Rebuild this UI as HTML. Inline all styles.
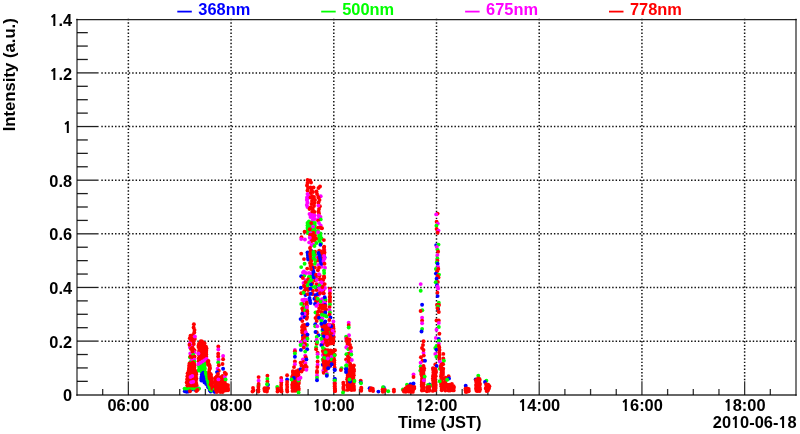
<!DOCTYPE html>
<html><head><meta charset="utf-8"><style>
html,body{margin:0;padding:0;background:#fff;width:800px;height:434px;overflow:hidden}
svg{display:block}
.one{font-family:NanumGothic,'Liberation Sans',sans-serif;font-weight:800;font-size:14.9px}
.r{fill:#f00}.g{fill:#0f0}.b{fill:#00f}.m{fill:#f0f}
</style></head><body>
<svg width="800" height="434" viewBox="0 0 800 434">
<rect width="800" height="434" fill="#fff"/>
<g stroke="#111" stroke-width="1.5" stroke-dasharray="1.45 1.9786" fill="none"><line x1="128.36" y1="18.78" x2="128.36" y2="382.0"/><line x1="231.07" y1="18.78" x2="231.07" y2="382.0"/><line x1="333.79" y1="18.78" x2="333.79" y2="382.0"/><line x1="436.50" y1="18.78" x2="436.50" y2="382.0"/><line x1="539.21" y1="18.78" x2="539.21" y2="382.0"/><line x1="641.93" y1="18.78" x2="641.93" y2="382.0"/><line x1="744.64" y1="18.78" x2="744.64" y2="382.0"/><line x1="101.33" y1="341.16" x2="796.0" y2="341.16"/><line x1="101.33" y1="287.51" x2="796.0" y2="287.51"/><line x1="101.33" y1="233.87" x2="796.0" y2="233.87"/><line x1="101.33" y1="180.23" x2="796.0" y2="180.23"/><line x1="101.33" y1="126.59" x2="796.0" y2="126.59"/><line x1="101.33" y1="72.94" x2="796.0" y2="72.94"/></g><g stroke="#000" stroke-width="1.3" fill="none" opacity="0.88"><line x1="77.0" y1="381.34" x2="87.8" y2="381.34"/><line x1="77.0" y1="367.93" x2="87.8" y2="367.93"/><line x1="77.0" y1="354.52" x2="87.8" y2="354.52"/><line x1="77.0" y1="341.11" x2="98.6" y2="341.11"/><line x1="77.0" y1="327.70" x2="87.8" y2="327.70"/><line x1="77.0" y1="314.29" x2="87.8" y2="314.29"/><line x1="77.0" y1="300.88" x2="87.8" y2="300.88"/><line x1="77.0" y1="287.46" x2="98.6" y2="287.46"/><line x1="77.0" y1="274.05" x2="87.8" y2="274.05"/><line x1="77.0" y1="260.64" x2="87.8" y2="260.64"/><line x1="77.0" y1="247.23" x2="87.8" y2="247.23"/><line x1="77.0" y1="233.82" x2="98.6" y2="233.82"/><line x1="77.0" y1="220.41" x2="87.8" y2="220.41"/><line x1="77.0" y1="207.00" x2="87.8" y2="207.00"/><line x1="77.0" y1="193.59" x2="87.8" y2="193.59"/><line x1="77.0" y1="180.18" x2="98.6" y2="180.18"/><line x1="77.0" y1="166.77" x2="87.8" y2="166.77"/><line x1="77.0" y1="153.36" x2="87.8" y2="153.36"/><line x1="77.0" y1="139.95" x2="87.8" y2="139.95"/><line x1="77.0" y1="126.54" x2="98.6" y2="126.54"/><line x1="77.0" y1="113.12" x2="87.8" y2="113.12"/><line x1="77.0" y1="99.71" x2="87.8" y2="99.71"/><line x1="77.0" y1="86.30" x2="87.8" y2="86.30"/><line x1="77.0" y1="72.89" x2="98.6" y2="72.89"/><line x1="77.0" y1="59.48" x2="87.8" y2="59.48"/><line x1="77.0" y1="46.07" x2="87.8" y2="46.07"/><line x1="77.0" y1="32.66" x2="87.8" y2="32.66"/></g><g stroke="#000" stroke-width="1.3" fill="none" opacity="0.8"><line x1="102.68" y1="395.0" x2="102.68" y2="389.0"/><line x1="128.36" y1="395.0" x2="128.36" y2="381.3"/><line x1="154.04" y1="395.0" x2="154.04" y2="389.0"/><line x1="179.71" y1="395.0" x2="179.71" y2="389.0"/><line x1="205.39" y1="395.0" x2="205.39" y2="389.0"/><line x1="231.07" y1="395.0" x2="231.07" y2="381.3"/><line x1="256.75" y1="395.0" x2="256.75" y2="389.0"/><line x1="282.43" y1="395.0" x2="282.43" y2="389.0"/><line x1="308.11" y1="395.0" x2="308.11" y2="389.0"/><line x1="333.79" y1="395.0" x2="333.79" y2="381.3"/><line x1="359.46" y1="395.0" x2="359.46" y2="389.0"/><line x1="385.14" y1="395.0" x2="385.14" y2="389.0"/><line x1="410.82" y1="395.0" x2="410.82" y2="389.0"/><line x1="436.50" y1="395.0" x2="436.50" y2="381.3"/><line x1="462.18" y1="395.0" x2="462.18" y2="389.0"/><line x1="487.86" y1="395.0" x2="487.86" y2="389.0"/><line x1="513.54" y1="395.0" x2="513.54" y2="389.0"/><line x1="539.21" y1="395.0" x2="539.21" y2="381.3"/><line x1="564.89" y1="395.0" x2="564.89" y2="389.0"/><line x1="590.57" y1="395.0" x2="590.57" y2="389.0"/><line x1="616.25" y1="395.0" x2="616.25" y2="389.0"/><line x1="641.93" y1="395.0" x2="641.93" y2="381.3"/><line x1="667.61" y1="395.0" x2="667.61" y2="389.0"/><line x1="693.29" y1="395.0" x2="693.29" y2="389.0"/><line x1="718.96" y1="395.0" x2="718.96" y2="389.0"/><line x1="744.64" y1="395.0" x2="744.64" y2="381.3"/><line x1="770.32" y1="395.0" x2="770.32" y2="389.0"/></g><g fill="none" stroke-linecap="square"><line x1="77.0" y1="19.6" x2="796.0" y2="19.6" stroke="#222" stroke-width="1.45"/><line x1="77.0" y1="19.5" x2="77.0" y2="395.0" stroke="#000" stroke-width="1.3" opacity="0.8"/><line x1="796.0" y1="19.5" x2="796.0" y2="395.0" stroke="#000" stroke-width="1.3" opacity="0.8"/><line x1="77.0" y1="395.0" x2="796.0" y2="395.0" stroke="#000" stroke-width="1.3" opacity="0.8"/></g><g><circle class="r" cx="193.9" cy="324.3" r="1.95"/><circle class="r" cx="193.6" cy="327.5" r="1.95"/><circle class="r" cx="194.5" cy="330.0" r="1.95"/><circle class="r" cx="194.3" cy="332.5" r="1.95"/><circle class="r" cx="193.0" cy="335.0" r="1.95"/><circle class="r" cx="190.5" cy="335.8" r="1.95"/><circle class="r" cx="189.8" cy="338.2" r="1.95"/><circle class="r" cx="192.0" cy="338.5" r="1.95"/><circle class="r" cx="194.8" cy="339.0" r="1.95"/><circle class="r" cx="191.0" cy="340.8" r="1.95"/><circle class="r" cx="193.5" cy="341.5" r="1.95"/><circle class="m" cx="194.9" cy="336.5" r="1.95"/><circle class="m" cx="189.8" cy="343.5" r="1.95"/><circle class="m" cx="192.5" cy="345.5" r="1.95"/><circle class="m" cx="190.0" cy="347.5" r="1.95"/><circle class="r" cx="191.0" cy="349.0" r="1.95"/><circle class="r" cx="189.5" cy="344.8" r="1.95"/><circle class="r" cx="193.5" cy="349.5" r="1.95"/><circle class="r" cx="194.5" cy="350.5" r="1.95"/><circle class="r" cx="193.8" cy="344.0" r="1.95"/><circle class="r" cx="192.5" cy="347.8" r="1.95"/><circle class="m" cx="190.3" cy="353.5" r="1.95"/><circle class="m" cx="194.4" cy="352.3" r="1.95"/><circle class="g" cx="193.2" cy="354.6" r="1.95"/><circle class="g" cx="190.0" cy="357.2" r="1.95"/><circle class="r" cx="190.5" cy="356.5" r="1.95"/><circle class="r" cx="194.5" cy="356.5" r="1.95"/><circle class="r" cx="192.5" cy="357.5" r="1.95"/><circle class="r" cx="192.5" cy="351.5" r="1.95"/><circle class="m" cx="191.2" cy="360.6" r="1.95"/><circle class="m" cx="194.4" cy="359.8" r="1.95"/><circle class="g" cx="194.4" cy="361.8" r="1.95"/><circle class="g" cx="190.3" cy="362.5" r="1.95"/><circle class="r" cx="189.5" cy="363.5" r="1.95"/><circle class="r" cx="193.0" cy="362.5" r="1.95"/><circle class="b" cx="184.8" cy="391.3" r="1.95"/><circle class="b" cx="186.6" cy="391.8" r="1.95"/><circle class="b" cx="188.3" cy="391.5" r="1.95"/><circle class="b" cx="191.5" cy="389.5" r="1.95"/><circle class="b" cx="195.0" cy="389.8" r="1.95"/><circle class="b" cx="198.5" cy="388.5" r="1.95"/><circle class="g" cx="184.6" cy="388.6" r="1.95"/><circle class="g" cx="187.0" cy="388.6" r="1.95"/><circle class="g" cx="189.4" cy="388.6" r="1.95"/><circle class="g" cx="191.8" cy="388.6" r="1.95"/><circle class="g" cx="194.2" cy="388.6" r="1.95"/><circle class="g" cx="196.6" cy="388.6" r="1.95"/><circle class="g" cx="199.0" cy="388.6" r="1.95"/><circle class="r" cx="192.9" cy="377.0" r="1.95"/><circle class="r" cx="189.1" cy="365.7" r="1.95"/><circle class="r" cx="189.4" cy="378.8" r="1.95"/><circle class="r" cx="194.8" cy="385.7" r="1.95"/><circle class="r" cx="191.2" cy="382.2" r="1.95"/><circle class="r" cx="194.5" cy="383.5" r="1.95"/><circle class="r" cx="192.6" cy="367.8" r="1.95"/><circle class="r" cx="196.4" cy="371.1" r="1.95"/><circle class="r" cx="195.9" cy="376.5" r="1.95"/><circle class="r" cx="194.1" cy="364.0" r="1.95"/><circle class="r" cx="191.2" cy="363.7" r="1.95"/><circle class="r" cx="187.4" cy="378.8" r="1.95"/><circle class="r" cx="192.6" cy="385.5" r="1.95"/><circle class="r" cx="187.2" cy="385.6" r="1.95"/><circle class="r" cx="189.0" cy="369.0" r="1.95"/><circle class="r" cx="188.7" cy="370.8" r="1.95"/><circle class="r" cx="190.5" cy="371.1" r="1.95"/><circle class="r" cx="192.4" cy="370.6" r="1.95"/><circle class="r" cx="194.1" cy="380.5" r="1.95"/><circle class="r" cx="192.4" cy="381.7" r="1.95"/><circle class="r" cx="187.6" cy="383.7" r="1.95"/><circle class="r" cx="190.7" cy="378.0" r="1.95"/><circle class="r" cx="192.3" cy="369.2" r="1.95"/><circle class="r" cx="188.8" cy="380.4" r="1.95"/><circle class="r" cx="190.5" cy="383.2" r="1.95"/><circle class="r" cx="187.2" cy="379.8" r="1.95"/><circle class="r" cx="187.4" cy="376.3" r="1.95"/><circle class="r" cx="192.3" cy="378.0" r="1.95"/><circle class="r" cx="194.8" cy="378.6" r="1.95"/><circle class="r" cx="196.2" cy="374.3" r="1.95"/><circle class="r" cx="191.0" cy="367.6" r="1.95"/><circle class="r" cx="186.7" cy="382.4" r="1.95"/><circle class="r" cx="194.6" cy="365.5" r="1.95"/><circle class="r" cx="196.3" cy="384.0" r="1.95"/><circle class="r" cx="189.1" cy="367.9" r="1.95"/><circle class="r" cx="191.1" cy="365.9" r="1.95"/><circle class="r" cx="189.0" cy="383.2" r="1.95"/><circle class="r" cx="194.3" cy="371.2" r="1.95"/><circle class="r" cx="191.1" cy="376.3" r="1.95"/><circle class="r" cx="192.3" cy="383.7" r="1.95"/><circle class="r" cx="193.9" cy="372.6" r="1.95"/><circle class="r" cx="195.8" cy="380.4" r="1.95"/><circle class="r" cx="192.4" cy="374.5" r="1.95"/><circle class="r" cx="194.1" cy="374.2" r="1.95"/><circle class="r" cx="194.7" cy="376.8" r="1.95"/><circle class="r" cx="195.8" cy="382.3" r="1.95"/><circle class="r" cx="192.2" cy="363.7" r="1.95"/><circle class="r" cx="192.3" cy="372.7" r="1.95"/><circle class="r" cx="192.8" cy="379.8" r="1.95"/><circle class="r" cx="192.7" cy="365.7" r="1.95"/><circle class="r" cx="190.8" cy="385.5" r="1.95"/><circle class="r" cx="190.4" cy="372.5" r="1.95"/><circle class="r" cx="196.6" cy="385.3" r="1.95"/><circle class="r" cx="189.3" cy="375.2" r="1.95"/><circle class="r" cx="188.9" cy="372.5" r="1.95"/><circle class="r" cx="196.1" cy="372.4" r="1.95"/><circle class="r" cx="188.7" cy="376.8" r="1.95"/><circle class="r" cx="190.8" cy="374.3" r="1.95"/><circle class="r" cx="190.7" cy="380.0" r="1.95"/><circle class="r" cx="194.4" cy="367.7" r="1.95"/><circle class="r" cx="194.0" cy="369.2" r="1.95"/><circle class="r" cx="194.5" cy="381.7" r="1.95"/><circle class="r" cx="196.4" cy="378.6" r="1.95"/><circle class="r" cx="187.6" cy="373.2" r="1.95"/><circle class="r" cx="189.4" cy="385.4" r="1.95"/><circle class="r" cx="189.0" cy="382.3" r="1.95"/><circle class="r" cx="190.4" cy="369.6" r="1.95"/><circle class="r" cx="190.0" cy="391.3" r="1.95"/><circle class="r" cx="196.4" cy="391.0" r="1.95"/><circle class="r" cx="197.5" cy="390.0" r="1.95"/><circle class="m" cx="192.3" cy="376.0" r="1.95"/><circle class="m" cx="190.5" cy="377.0" r="1.95"/><circle class="m" cx="191.2" cy="382.3" r="1.95"/><circle class="m" cx="193.2" cy="381.8" r="1.95"/><circle class="r" cx="199.1" cy="351.0" r="1.95"/><circle class="r" cx="202.1" cy="341.4" r="1.95"/><circle class="r" cx="202.1" cy="346.8" r="1.95"/><circle class="r" cx="202.2" cy="350.5" r="1.95"/><circle class="r" cx="204.6" cy="354.4" r="1.95"/><circle class="r" cx="201.3" cy="348.4" r="1.95"/><circle class="r" cx="204.3" cy="345.0" r="1.95"/><circle class="r" cx="200.7" cy="360.1" r="1.95"/><circle class="r" cx="198.6" cy="354.0" r="1.95"/><circle class="r" cx="199.4" cy="348.7" r="1.95"/><circle class="r" cx="200.8" cy="343.6" r="1.95"/><circle class="r" cx="204.8" cy="348.9" r="1.95"/><circle class="r" cx="206.5" cy="348.4" r="1.95"/><circle class="r" cx="201.1" cy="356.5" r="1.95"/><circle class="r" cx="204.7" cy="350.7" r="1.95"/><circle class="r" cx="206.2" cy="356.5" r="1.95"/><circle class="r" cx="200.8" cy="341.3" r="1.95"/><circle class="r" cx="204.1" cy="356.1" r="1.95"/><circle class="r" cx="202.4" cy="345.2" r="1.95"/><circle class="r" cx="200.8" cy="346.7" r="1.95"/><circle class="r" cx="202.4" cy="355.7" r="1.95"/><circle class="r" cx="206.3" cy="350.8" r="1.95"/><circle class="r" cx="201.0" cy="352.2" r="1.95"/><circle class="r" cx="206.1" cy="352.4" r="1.95"/><circle class="r" cx="202.5" cy="359.5" r="1.95"/><circle class="r" cx="204.5" cy="343.3" r="1.95"/><circle class="r" cx="199.0" cy="343.7" r="1.95"/><circle class="r" cx="199.4" cy="359.4" r="1.95"/><circle class="r" cx="198.6" cy="345.5" r="1.95"/><circle class="r" cx="202.7" cy="348.3" r="1.95"/><circle class="r" cx="198.7" cy="358.2" r="1.95"/><circle class="r" cx="202.4" cy="352.6" r="1.95"/><circle class="r" cx="206.2" cy="354.2" r="1.95"/><circle class="r" cx="201.0" cy="350.3" r="1.95"/><circle class="r" cx="204.6" cy="352.9" r="1.95"/><circle class="r" cx="206.0" cy="346.7" r="1.95"/><circle class="r" cx="198.7" cy="361.3" r="1.95"/><circle class="r" cx="200.6" cy="354.3" r="1.95"/><circle class="r" cx="202.2" cy="354.0" r="1.95"/><circle class="r" cx="204.3" cy="346.5" r="1.95"/><circle class="r" cx="202.4" cy="343.7" r="1.95"/><circle class="r" cx="204.2" cy="357.6" r="1.95"/><circle class="r" cx="200.3" cy="357.3" r="1.95"/><circle class="r" cx="198.5" cy="346.9" r="1.95"/><circle class="r" cx="201.0" cy="345.0" r="1.95"/><circle class="r" cx="199.0" cy="352.6" r="1.95"/><circle class="r" cx="202.6" cy="357.6" r="1.95"/><circle class="r" cx="199.4" cy="355.5" r="1.95"/><circle class="m" cx="198.4" cy="353.5" r="1.95"/><circle class="g" cx="201.5" cy="367.5" r="1.95"/><circle class="g" cx="201.3" cy="369.3" r="1.95"/><circle class="g" cx="204.9" cy="368.8" r="1.95"/><circle class="g" cx="204.2" cy="370.5" r="1.95"/><circle class="g" cx="204.5" cy="367.1" r="1.95"/><circle class="g" cx="203.1" cy="363.7" r="1.95"/><circle class="g" cx="204.7" cy="365.0" r="1.95"/><circle class="g" cx="198.9" cy="370.6" r="1.95"/><circle class="g" cx="199.2" cy="367.0" r="1.95"/><circle class="g" cx="199.1" cy="369.3" r="1.95"/><circle class="g" cx="202.9" cy="365.4" r="1.95"/><circle class="g" cx="201.2" cy="371.3" r="1.95"/><circle class="g" cx="202.7" cy="370.6" r="1.95"/><circle class="g" cx="199.0" cy="365.6" r="1.95"/><circle class="g" cx="201.4" cy="363.9" r="1.95"/><circle class="g" cx="205.0" cy="362.2" r="1.95"/><circle class="g" cx="204.1" cy="364.0" r="1.95"/><circle class="g" cx="200.6" cy="365.1" r="1.95"/><circle class="g" cx="202.5" cy="369.6" r="1.95"/><circle class="g" cx="202.3" cy="367.3" r="1.95"/><circle class="m" cx="198.3" cy="364.0" r="1.95"/><circle class="m" cx="200.5" cy="362.7" r="1.95"/><circle class="m" cx="202.6" cy="361.4" r="1.95"/><circle class="m" cx="204.7" cy="360.1" r="1.95"/><circle class="m" cx="206.6" cy="358.9" r="1.95"/><circle class="b" cx="206.6" cy="380.3" r="1.95"/><circle class="b" cx="204.4" cy="377.1" r="1.95"/><circle class="b" cx="201.4" cy="379.0" r="1.95"/><circle class="b" cx="207.5" cy="381.0" r="1.95"/><circle class="b" cx="203.0" cy="380.4" r="1.95"/><circle class="b" cx="204.5" cy="382.4" r="1.95"/><circle class="b" cx="210.8" cy="390.1" r="1.95"/><circle class="b" cx="203.2" cy="374.3" r="1.95"/><circle class="b" cx="202.7" cy="378.6" r="1.95"/><circle class="b" cx="208.3" cy="382.4" r="1.95"/><circle class="b" cx="210.7" cy="391.5" r="1.95"/><circle class="b" cx="201.4" cy="377.9" r="1.95"/><circle class="b" cx="206.0" cy="375.6" r="1.95"/><circle class="b" cx="204.3" cy="380.8" r="1.95"/><circle class="b" cx="206.5" cy="378.8" r="1.95"/><circle class="b" cx="206.3" cy="374.3" r="1.95"/><circle class="b" cx="202.9" cy="375.7" r="1.95"/><circle class="b" cx="208.2" cy="384.0" r="1.95"/><circle class="b" cx="206.2" cy="383.9" r="1.95"/><circle class="b" cx="204.4" cy="374.2" r="1.95"/><circle class="b" cx="207.4" cy="385.1" r="1.95"/><circle class="b" cx="205.9" cy="382.5" r="1.95"/><circle class="b" cx="204.5" cy="375.7" r="1.95"/><circle class="b" cx="201.8" cy="376.2" r="1.95"/><circle class="b" cx="206.0" cy="377.6" r="1.95"/><circle class="b" cx="209.3" cy="387.2" r="1.95"/><circle class="b" cx="201.4" cy="380.6" r="1.95"/><circle class="b" cx="209.5" cy="388.7" r="1.95"/><circle class="b" cx="201.9" cy="374.3" r="1.95"/><circle class="b" cx="203.3" cy="372.8" r="1.95"/><circle class="b" cx="214.8" cy="391.5" r="1.95"/><circle class="b" cx="202.7" cy="377.6" r="1.95"/><circle class="b" cx="204.7" cy="379.0" r="1.95"/><circle class="b" cx="209.9" cy="390.5" r="1.95"/><circle class="b" cx="212.6" cy="390.2" r="1.95"/><circle class="b" cx="208.2" cy="387.2" r="1.95"/><circle class="g" cx="205.8" cy="372.5" r="1.95"/><circle class="g" cx="206.2" cy="374.5" r="1.95"/><circle class="g" cx="206.8" cy="377.0" r="1.95"/><circle class="g" cx="207.3" cy="379.5" r="1.95"/><circle class="g" cx="208.0" cy="382.0" r="1.95"/><circle class="g" cx="208.6" cy="384.5" r="1.95"/><circle class="g" cx="209.3" cy="387.0" r="1.95"/><circle class="g" cx="210.3" cy="389.5" r="1.95"/><circle class="g" cx="211.8" cy="390.5" r="1.95"/><circle class="r" cx="211.9" cy="381.2" r="1.95"/><circle class="r" cx="208.1" cy="364.8" r="1.95"/><circle class="r" cx="211.9" cy="384.1" r="1.95"/><circle class="r" cx="210.4" cy="378.5" r="1.95"/><circle class="r" cx="210.8" cy="374.2" r="1.95"/><circle class="r" cx="211.9" cy="385.7" r="1.95"/><circle class="r" cx="209.6" cy="378.4" r="1.95"/><circle class="r" cx="210.9" cy="375.7" r="1.95"/><circle class="r" cx="209.7" cy="365.8" r="1.95"/><circle class="r" cx="211.2" cy="381.6" r="1.95"/><circle class="r" cx="207.6" cy="361.9" r="1.95"/><circle class="r" cx="213.5" cy="387.6" r="1.95"/><circle class="r" cx="209.8" cy="367.8" r="1.95"/><circle class="r" cx="208.9" cy="364.3" r="1.95"/><circle class="r" cx="211.0" cy="377.8" r="1.95"/><circle class="r" cx="212.6" cy="382.9" r="1.95"/><circle class="r" cx="208.4" cy="363.8" r="1.95"/><circle class="r" cx="209.4" cy="376.3" r="1.95"/><circle class="r" cx="212.0" cy="378.3" r="1.95"/><circle class="r" cx="212.3" cy="388.7" r="1.95"/><circle class="r" cx="209.8" cy="373.4" r="1.95"/><circle class="r" cx="209.0" cy="371.9" r="1.95"/><circle class="r" cx="210.6" cy="379.6" r="1.95"/><circle class="r" cx="209.8" cy="368.4" r="1.95"/><circle class="r" cx="213.2" cy="388.7" r="1.95"/><circle class="r" cx="209.4" cy="369.8" r="1.95"/><circle class="r" cx="212.3" cy="386.7" r="1.95"/><circle class="r" cx="211.1" cy="382.9" r="1.95"/><circle class="r" cx="210.5" cy="384.5" r="1.95"/><circle class="r" cx="208.4" cy="360.9" r="1.95"/><circle class="r" cx="209.7" cy="377.6" r="1.95"/><circle class="r" cx="209.3" cy="374.3" r="1.95"/><circle class="b" cx="217.0" cy="381.0" r="1.95"/><circle class="g" cx="214.5" cy="389.8" r="1.95"/><circle class="b" cx="214.5" cy="391.8" r="1.95"/><circle class="r" cx="228.0" cy="390.3" r="1.95"/><circle class="r" cx="224.5" cy="388.9" r="1.95"/><circle class="r" cx="224.9" cy="390.6" r="1.95"/><circle class="r" cx="218.8" cy="379.1" r="1.95"/><circle class="r" cx="218.5" cy="381.6" r="1.95"/><circle class="r" cx="228.1" cy="389.0" r="1.95"/><circle class="r" cx="224.0" cy="377.7" r="1.95"/><circle class="r" cx="226.2" cy="384.7" r="1.95"/><circle class="r" cx="223.0" cy="386.9" r="1.95"/><circle class="r" cx="222.7" cy="388.7" r="1.95"/><circle class="r" cx="216.9" cy="388.8" r="1.95"/><circle class="r" cx="224.3" cy="386.5" r="1.95"/><circle class="r" cx="220.4" cy="386.2" r="1.95"/><circle class="r" cx="216.8" cy="376.2" r="1.95"/><circle class="r" cx="224.6" cy="381.5" r="1.95"/><circle class="r" cx="217.0" cy="386.8" r="1.95"/><circle class="r" cx="219.2" cy="377.4" r="1.95"/><circle class="r" cx="215.3" cy="381.4" r="1.95"/><circle class="r" cx="222.1" cy="385.1" r="1.95"/><circle class="r" cx="216.8" cy="392.0" r="1.95"/><circle class="r" cx="217.6" cy="382.6" r="1.95"/><circle class="r" cx="215.2" cy="379.8" r="1.95"/><circle class="r" cx="219.0" cy="384.5" r="1.95"/><circle class="r" cx="222.1" cy="383.2" r="1.95"/><circle class="r" cx="215.6" cy="385.0" r="1.95"/><circle class="r" cx="221.1" cy="390.1" r="1.95"/><circle class="r" cx="218.7" cy="390.7" r="1.95"/><circle class="r" cx="217.4" cy="384.6" r="1.95"/><circle class="r" cx="226.7" cy="387.0" r="1.95"/><circle class="r" cx="215.9" cy="388.1" r="1.95"/><circle class="r" cx="217.2" cy="377.6" r="1.95"/><circle class="r" cx="215.6" cy="386.3" r="1.95"/><circle class="r" cx="221.1" cy="380.9" r="1.95"/><circle class="r" cx="225.7" cy="388.2" r="1.95"/><circle class="r" cx="222.6" cy="376.0" r="1.95"/><circle class="r" cx="215.8" cy="383.0" r="1.95"/><circle class="r" cx="221.1" cy="388.3" r="1.95"/><circle class="r" cx="226.5" cy="390.3" r="1.95"/><circle class="r" cx="221.2" cy="385.0" r="1.95"/><circle class="r" cx="227.8" cy="387.1" r="1.95"/><circle class="r" cx="222.8" cy="378.2" r="1.95"/><circle class="r" cx="223.0" cy="390.8" r="1.95"/><circle class="r" cx="224.8" cy="384.6" r="1.95"/><circle class="r" cx="215.6" cy="377.7" r="1.95"/><circle class="r" cx="217.3" cy="381.2" r="1.95"/><circle class="r" cx="217.6" cy="379.3" r="1.95"/><circle class="r" cx="228.0" cy="385.1" r="1.95"/><circle class="r" cx="224.8" cy="383.1" r="1.95"/><circle class="r" cx="218.6" cy="382.9" r="1.95"/><circle class="r" cx="215.7" cy="390.0" r="1.95"/><circle class="r" cx="219.2" cy="387.1" r="1.95"/><circle class="r" cx="221.2" cy="382.8" r="1.95"/><circle class="r" cx="222.6" cy="381.2" r="1.95"/><circle class="r" cx="219.3" cy="388.5" r="1.95"/><circle class="r" cx="217.4" cy="390.1" r="1.95"/><circle class="r" cx="220.7" cy="379.5" r="1.95"/><circle class="r" cx="220.9" cy="377.2" r="1.95"/><circle class="r" cx="220.3" cy="392.0" r="1.95"/><circle class="r" cx="224.1" cy="379.5" r="1.95"/><circle class="r" cx="222.6" cy="392.0" r="1.95"/><circle class="r" cx="223.1" cy="379.9" r="1.95"/><circle class="m" cx="218.4" cy="379.4" r="1.95"/><circle class="m" cx="224.9" cy="376.7" r="1.95"/><circle class="g" cx="225.6" cy="379.4" r="1.95"/><circle class="r" cx="218.3" cy="346.5" r="1.95"/><circle class="m" cx="218.3" cy="349.5" r="1.95"/><circle class="r" cx="218.2" cy="353.7" r="1.95"/><circle class="r" cx="218.2" cy="356.5" r="1.95"/><circle class="m" cx="218.5" cy="359.8" r="1.95"/><circle class="g" cx="218.2" cy="362.4" r="1.95"/><circle class="r" cx="218.8" cy="365.2" r="1.95"/><circle class="m" cx="217.6" cy="368.7" r="1.95"/><circle class="r" cx="218.8" cy="370.7" r="1.95"/><circle class="b" cx="217.0" cy="372.1" r="1.95"/><circle class="r" cx="218.0" cy="374.0" r="1.95"/><circle class="m" cx="223.1" cy="356.0" r="1.95"/><circle class="r" cx="223.1" cy="359.2" r="1.95"/><circle class="r" cx="222.5" cy="364.0" r="1.95"/><circle class="b" cx="223.1" cy="368.8" r="1.95"/><circle class="r" cx="224.8" cy="372.7" r="1.95"/><circle class="r" cx="226.0" cy="374.0" r="1.95"/><circle class="r" cx="253.0" cy="388.0" r="1.95"/><circle class="r" cx="253.5" cy="390.5" r="1.95"/><circle class="r" cx="252.5" cy="391.5" r="1.95"/><circle class="g" cx="258.5" cy="385.5" r="1.95"/><circle class="r" cx="258.6" cy="377.1" r="1.95"/><circle class="m" cx="258.6" cy="380.7" r="1.95"/><circle class="r" cx="258.6" cy="383.9" r="1.95"/><circle class="r" cx="258.4" cy="387.0" r="1.95"/><circle class="r" cx="258.4" cy="389.5" r="1.95"/><circle class="r" cx="258.4" cy="391.5" r="1.95"/><circle class="r" cx="267.1" cy="389.5" r="1.95"/><circle class="r" cx="264.7" cy="391.0" r="1.95"/><circle class="r" cx="266.4" cy="388.2" r="1.95"/><circle class="r" cx="264.5" cy="388.3" r="1.95"/><circle class="r" cx="264.5" cy="389.8" r="1.95"/><circle class="r" cx="266.9" cy="391.6" r="1.95"/><circle class="r" cx="268.2" cy="388.1" r="1.95"/><circle class="b" cx="268.0" cy="384.8" r="1.95"/><circle class="r" cx="267.4" cy="375.8" r="1.95"/><circle class="g" cx="267.4" cy="378.9" r="1.95"/><circle class="r" cx="267.4" cy="381.6" r="1.95"/><circle class="g" cx="267.0" cy="384.3" r="1.95"/><circle class="g" cx="277.2" cy="387.0" r="1.95"/><circle class="r" cx="277.5" cy="389.0" r="1.95"/><circle class="r" cx="277.5" cy="391.5" r="1.95"/><circle class="r" cx="278.5" cy="390.5" r="1.95"/><circle class="r" cx="281.2" cy="378.0" r="1.95"/><circle class="r" cx="281.3" cy="382.5" r="1.95"/><circle class="r" cx="281.2" cy="385.0" r="1.95"/><circle class="r" cx="281.0" cy="387.5" r="1.95"/><circle class="r" cx="281.2" cy="389.5" r="1.95"/><circle class="r" cx="281.5" cy="391.5" r="1.95"/><circle class="m" cx="281.4" cy="380.4" r="1.95"/><circle class="r" cx="287.1" cy="375.3" r="1.95"/><circle class="b" cx="287.1" cy="379.4" r="1.95"/><circle class="r" cx="287.1" cy="382.0" r="1.95"/><circle class="r" cx="287.0" cy="384.5" r="1.95"/><circle class="r" cx="287.2" cy="387.0" r="1.95"/><circle class="r" cx="287.0" cy="389.5" r="1.95"/><circle class="r" cx="287.3" cy="391.5" r="1.95"/><circle class="m" cx="294.9" cy="349.9" r="1.95"/><circle class="r" cx="294.9" cy="351.3" r="1.95"/><circle class="g" cx="294.9" cy="353.5" r="1.95"/><circle class="b" cx="294.9" cy="356.8" r="1.95"/><circle class="r" cx="294.9" cy="361.4" r="1.95"/><circle class="m" cx="294.9" cy="364.2" r="1.95"/><circle class="r" cx="294.0" cy="367.1" r="1.95"/><circle class="r" cx="298.3" cy="374.3" r="1.95"/><circle class="r" cx="294.8" cy="388.6" r="1.95"/><circle class="r" cx="292.4" cy="386.9" r="1.95"/><circle class="r" cx="298.9" cy="380.2" r="1.95"/><circle class="r" cx="292.3" cy="378.3" r="1.95"/><circle class="r" cx="294.5" cy="383.0" r="1.95"/><circle class="r" cx="297.0" cy="380.2" r="1.95"/><circle class="r" cx="294.5" cy="372.3" r="1.95"/><circle class="r" cx="294.6" cy="376.6" r="1.95"/><circle class="r" cx="298.3" cy="384.4" r="1.95"/><circle class="r" cx="292.8" cy="382.7" r="1.95"/><circle class="r" cx="296.3" cy="384.2" r="1.95"/><circle class="r" cx="298.8" cy="378.7" r="1.95"/><circle class="r" cx="297.0" cy="388.1" r="1.95"/><circle class="r" cx="296.2" cy="382.5" r="1.95"/><circle class="r" cx="298.5" cy="376.1" r="1.95"/><circle class="r" cx="292.6" cy="388.3" r="1.95"/><circle class="r" cx="294.9" cy="374.2" r="1.95"/><circle class="r" cx="296.5" cy="386.2" r="1.95"/><circle class="r" cx="292.9" cy="381.0" r="1.95"/><circle class="r" cx="294.1" cy="384.9" r="1.95"/><circle class="r" cx="298.9" cy="383.0" r="1.95"/><circle class="r" cx="296.7" cy="372.4" r="1.95"/><circle class="r" cx="294.4" cy="380.4" r="1.95"/><circle class="r" cx="292.2" cy="376.7" r="1.95"/><circle class="r" cx="292.2" cy="384.8" r="1.95"/><circle class="r" cx="293.0" cy="372.5" r="1.95"/><circle class="r" cx="297.1" cy="374.5" r="1.95"/><circle class="r" cx="296.2" cy="371.1" r="1.95"/><circle class="r" cx="294.6" cy="386.3" r="1.95"/><circle class="r" cx="296.9" cy="377.0" r="1.95"/><circle class="r" cx="292.9" cy="371.1" r="1.95"/><circle class="r" cx="292.9" cy="375.0" r="1.95"/><circle class="r" cx="294.9" cy="379.0" r="1.95"/><circle class="r" cx="298.4" cy="372.2" r="1.95"/><circle class="r" cx="294.9" cy="390.7" r="1.95"/><circle class="r" cx="298.4" cy="386.6" r="1.95"/><circle class="r" cx="298.8" cy="388.7" r="1.95"/><circle class="r" cx="296.9" cy="378.3" r="1.95"/><circle class="r" cx="292.5" cy="390.9" r="1.95"/><circle class="r" cx="296.4" cy="390.5" r="1.95"/><circle class="r" cx="298.4" cy="390.2" r="1.95"/><circle class="r" cx="298.3" cy="370.2" r="1.95"/><circle class="b" cx="293.8" cy="378.0" r="1.95"/><circle class="g" cx="298.6" cy="392.4" r="1.95"/><circle class="g" cx="291.5" cy="379.5" r="1.95"/><circle class="g" cx="298.5" cy="380.5" r="1.95"/><circle class="m" cx="298.4" cy="379.0" r="1.95"/><circle class="m" cx="300.5" cy="377.7" r="1.95"/><circle class="r" cx="307.5" cy="180.0" r="1.95"/><circle class="r" cx="310.0" cy="180.5" r="1.95"/><circle class="r" cx="311.0" cy="182.5" r="1.95"/><circle class="r" cx="307.5" cy="183.0" r="1.95"/><circle class="r" cx="307.0" cy="185.5" r="1.95"/><circle class="r" cx="308.0" cy="188.0" r="1.95"/><circle class="r" cx="307.5" cy="190.5" r="1.95"/><circle class="r" cx="310.5" cy="187.5" r="1.95"/><circle class="r" cx="313.5" cy="187.5" r="1.95"/><circle class="r" cx="311.5" cy="190.0" r="1.95"/><circle class="r" cx="313.0" cy="192.0" r="1.95"/><circle class="r" cx="310.5" cy="193.0" r="1.95"/><circle class="r" cx="318.5" cy="188.0" r="1.95"/><circle class="r" cx="320.0" cy="186.5" r="1.95"/><circle class="r" cx="316.5" cy="191.5" r="1.95"/><circle class="r" cx="317.0" cy="194.0" r="1.95"/><circle class="r" cx="318.5" cy="196.5" r="1.95"/><circle class="r" cx="314.0" cy="197.0" r="1.95"/><circle class="r" cx="312.0" cy="196.0" r="1.95"/><circle class="m" cx="307.5" cy="194.0" r="1.95"/><circle class="m" cx="308.5" cy="196.5" r="1.95"/><circle class="m" cx="307.5" cy="199.0" r="1.95"/><circle class="m" cx="320.7" cy="196.2" r="1.95"/><circle class="m" cx="307.0" cy="197.5" r="1.95"/><circle class="m" cx="306.8" cy="200.0" r="1.95"/><circle class="m" cx="307.5" cy="202.5" r="1.95"/><circle class="m" cx="306.8" cy="205.0" r="1.95"/><circle class="m" cx="307.5" cy="207.0" r="1.95"/><circle class="r" cx="310.5" cy="197.5" r="1.95"/><circle class="r" cx="313.0" cy="198.5" r="1.95"/><circle class="r" cx="315.0" cy="200.0" r="1.95"/><circle class="r" cx="312.0" cy="201.0" r="1.95"/><circle class="r" cx="314.5" cy="203.0" r="1.95"/><circle class="r" cx="311.5" cy="204.0" r="1.95"/><circle class="r" cx="314.0" cy="206.0" r="1.95"/><circle class="r" cx="310.5" cy="207.5" r="1.95"/><circle class="r" cx="312.5" cy="208.5" r="1.95"/><circle class="r" cx="309.5" cy="209.0" r="1.95"/><circle class="r" cx="313.0" cy="210.5" r="1.95"/><circle class="r" cx="314.5" cy="212.0" r="1.95"/><circle class="r" cx="312.0" cy="212.5" r="1.95"/><circle class="m" cx="309.5" cy="214.0" r="1.95"/><circle class="m" cx="312.0" cy="215.0" r="1.95"/><circle class="m" cx="314.5" cy="215.5" r="1.95"/><circle class="m" cx="310.5" cy="217.0" r="1.95"/><circle class="m" cx="313.0" cy="218.0" r="1.95"/><circle class="m" cx="315.0" cy="219.0" r="1.95"/><circle class="m" cx="312.5" cy="220.5" r="1.95"/><circle class="r" cx="318.5" cy="197.5" r="1.95"/><circle class="r" cx="319.5" cy="200.0" r="1.95"/><circle class="r" cx="318.5" cy="202.5" r="1.95"/><circle class="r" cx="319.9" cy="206.2" r="1.95"/><circle class="r" cx="319.0" cy="209.0" r="1.95"/><circle class="r" cx="318.5" cy="211.5" r="1.95"/><circle class="r" cx="319.0" cy="213.5" r="1.95"/><circle class="m" cx="318.4" cy="205.6" r="1.95"/><circle class="m" cx="318.5" cy="215.5" r="1.95"/><circle class="m" cx="320.5" cy="217.0" r="1.95"/><circle class="m" cx="319.0" cy="218.3" r="1.95"/><circle class="g" cx="320.7" cy="219.4" r="1.95"/><circle class="r" cx="318.1" cy="220.6" r="1.95"/><circle class="g" cx="308.9" cy="221.4" r="1.95"/><circle class="g" cx="307.5" cy="223.0" r="1.95"/><circle class="g" cx="307.5" cy="225.5" r="1.95"/><circle class="g" cx="307.5" cy="228.0" r="1.95"/><circle class="g" cx="307.5" cy="230.5" r="1.95"/><circle class="g" cx="307.5" cy="233.0" r="1.95"/><circle class="g" cx="310.0" cy="223.0" r="1.95"/><circle class="g" cx="310.0" cy="225.5" r="1.95"/><circle class="g" cx="310.0" cy="228.0" r="1.95"/><circle class="g" cx="310.0" cy="230.5" r="1.95"/><circle class="g" cx="310.0" cy="233.0" r="1.95"/><circle class="g" cx="312.5" cy="223.0" r="1.95"/><circle class="g" cx="312.5" cy="225.5" r="1.95"/><circle class="g" cx="312.5" cy="228.0" r="1.95"/><circle class="g" cx="312.5" cy="230.5" r="1.95"/><circle class="g" cx="312.5" cy="233.0" r="1.95"/><circle class="g" cx="314.8" cy="223.0" r="1.95"/><circle class="g" cx="314.8" cy="225.5" r="1.95"/><circle class="g" cx="314.8" cy="228.0" r="1.95"/><circle class="g" cx="314.8" cy="230.5" r="1.95"/><circle class="g" cx="314.8" cy="233.0" r="1.95"/><circle class="r" cx="311.2" cy="223.1" r="1.95"/><circle class="r" cx="309.8" cy="229.2" r="1.95"/><circle class="r" cx="313.2" cy="232.6" r="1.95"/><circle class="m" cx="313.0" cy="226.6" r="1.95"/><circle class="m" cx="310.7" cy="233.2" r="1.95"/><circle class="m" cx="319.0" cy="223.1" r="1.95"/><circle class="m" cx="320.7" cy="225.4" r="1.95"/><circle class="r" cx="318.0" cy="227.7" r="1.95"/><circle class="r" cx="320.5" cy="227.7" r="1.95"/><circle class="r" cx="322.0" cy="228.2" r="1.95"/><circle class="g" cx="318.0" cy="231.0" r="1.95"/><circle class="g" cx="320.5" cy="233.5" r="1.95"/><circle class="g" cx="319.0" cy="236.0" r="1.95"/><circle class="g" cx="321.5" cy="238.5" r="1.95"/><circle class="g" cx="319.5" cy="241.0" r="1.95"/><circle class="g" cx="321.0" cy="243.5" r="1.95"/><circle class="g" cx="318.5" cy="239.0" r="1.95"/><circle class="g" cx="320.5" cy="236.0" r="1.95"/><circle class="m" cx="318.1" cy="232.3" r="1.95"/><circle class="b" cx="320.4" cy="244.7" r="1.95"/><circle class="r" cx="304.6" cy="231.8" r="1.95"/><circle class="r" cx="301.5" cy="237.2" r="1.95"/><circle class="m" cx="301.2" cy="239.0" r="1.95"/><circle class="m" cx="304.9" cy="239.5" r="1.95"/><circle class="r" cx="310.0" cy="235.0" r="1.95"/><circle class="r" cx="312.5" cy="234.5" r="1.95"/><circle class="r" cx="315.0" cy="235.5" r="1.95"/><circle class="r" cx="311.0" cy="237.5" r="1.95"/><circle class="r" cx="313.5" cy="237.5" r="1.95"/><circle class="r" cx="316.0" cy="238.5" r="1.95"/><circle class="r" cx="312.0" cy="240.0" r="1.95"/><circle class="r" cx="314.5" cy="240.5" r="1.95"/><circle class="r" cx="311.2" cy="241.5" r="1.95"/><circle class="m" cx="309.8" cy="237.8" r="1.95"/><circle class="m" cx="309.2" cy="242.4" r="1.95"/><circle class="m" cx="313.2" cy="244.4" r="1.95"/><circle class="m" cx="311.5" cy="245.5" r="1.95"/><circle class="r" cx="323.9" cy="240.1" r="1.95"/><circle class="r" cx="324.2" cy="246.7" r="1.95"/><circle class="g" cx="316.5" cy="243.0" r="1.95"/><circle class="g" cx="314.5" cy="246.0" r="1.95"/><circle class="r" cx="301.2" cy="253.6" r="1.95"/><circle class="r" cx="304.0" cy="259.1" r="1.95"/><circle class="r" cx="307.2" cy="268.6" r="1.95"/><circle class="g" cx="304.6" cy="263.7" r="1.95"/><circle class="g" cx="301.2" cy="267.1" r="1.95"/><circle class="m" cx="304.0" cy="271.4" r="1.95"/><circle class="r" cx="321.4" cy="251.5" r="1.95"/><circle class="b" cx="311.4" cy="251.0" r="1.95"/><circle class="b" cx="324.5" cy="257.3" r="1.95"/><circle class="r" cx="311.5" cy="261.0" r="1.95"/><circle class="r" cx="322.0" cy="261.0" r="1.95"/><circle class="b" cx="319.3" cy="254.5" r="1.95"/><circle class="r" cx="321.2" cy="257.4" r="1.95"/><circle class="r" cx="312.0" cy="264.6" r="1.95"/><circle class="r" cx="315.0" cy="254.6" r="1.95"/><circle class="r" cx="321.7" cy="254.5" r="1.95"/><circle class="r" cx="315.8" cy="261.1" r="1.95"/><circle class="g" cx="315.0" cy="263.7" r="1.95"/><circle class="m" cx="324.4" cy="250.1" r="1.95"/><circle class="m" cx="318.2" cy="264.9" r="1.95"/><circle class="r" cx="315.0" cy="251.6" r="1.95"/><circle class="r" cx="317.9" cy="270.2" r="1.95"/><circle class="m" cx="321.7" cy="266.7" r="1.95"/><circle class="b" cx="311.3" cy="258.1" r="1.95"/><circle class="r" cx="319.0" cy="267.8" r="1.95"/><circle class="b" cx="321.4" cy="263.8" r="1.95"/><circle class="m" cx="316.0" cy="257.1" r="1.95"/><circle class="r" cx="318.7" cy="257.8" r="1.95"/><circle class="g" cx="312.2" cy="254.2" r="1.95"/><circle class="r" cx="319.2" cy="250.6" r="1.95"/><circle class="r" cx="314.9" cy="267.6" r="1.95"/><circle class="r" cx="318.3" cy="260.6" r="1.95"/><circle class="r" cx="312.5" cy="267.1" r="1.95"/><circle class="b" cx="307.5" cy="252.5" r="1.95"/><circle class="b" cx="307.8" cy="255.0" r="1.95"/><circle class="b" cx="308.0" cy="257.5" r="1.95"/><circle class="b" cx="308.2" cy="259.6" r="1.95"/><circle class="b" cx="318.5" cy="253.0" r="1.95"/><circle class="b" cx="319.5" cy="255.5" r="1.95"/><circle class="b" cx="320.0" cy="258.0" r="1.95"/><circle class="b" cx="320.5" cy="260.5" r="1.95"/><circle class="b" cx="321.0" cy="262.5" r="1.95"/><circle class="b" cx="312.5" cy="268.0" r="1.95"/><circle class="b" cx="313.0" cy="270.5" r="1.95"/><circle class="b" cx="313.5" cy="272.0" r="1.95"/><circle class="r" cx="310.0" cy="248.0" r="1.95"/><circle class="r" cx="310.5" cy="251.0" r="1.95"/><circle class="r" cx="310.0" cy="254.0" r="1.95"/><circle class="r" cx="310.5" cy="257.0" r="1.95"/><circle class="r" cx="311.0" cy="260.0" r="1.95"/><circle class="r" cx="310.0" cy="263.0" r="1.95"/><circle class="r" cx="310.5" cy="266.0" r="1.95"/><circle class="r" cx="311.0" cy="269.0" r="1.95"/><circle class="g" cx="313.5" cy="252.0" r="1.95"/><circle class="g" cx="314.5" cy="255.0" r="1.95"/><circle class="g" cx="313.5" cy="258.0" r="1.95"/><circle class="g" cx="315.0" cy="260.0" r="1.95"/><circle class="r" cx="324.0" cy="247.5" r="1.95"/><circle class="r" cx="324.0" cy="250.0" r="1.95"/><circle class="r" cx="324.5" cy="252.5" r="1.95"/><circle class="r" cx="324.0" cy="254.5" r="1.95"/><circle class="m" cx="324.0" cy="256.0" r="1.95"/><circle class="m" cx="324.5" cy="258.5" r="1.95"/><circle class="m" cx="323.5" cy="261.0" r="1.95"/><circle class="r" cx="324.5" cy="263.7" r="1.95"/><circle class="m" cx="325.0" cy="267.7" r="1.95"/><circle class="g" cx="324.0" cy="270.6" r="1.95"/><circle class="g" cx="311.6" cy="280.0" r="1.95"/><circle class="m" cx="315.3" cy="294.7" r="1.95"/><circle class="r" cx="312.9" cy="290.7" r="1.95"/><circle class="m" cx="304.7" cy="282.8" r="1.95"/><circle class="r" cx="323.3" cy="290.2" r="1.95"/><circle class="r" cx="312.3" cy="283.3" r="1.95"/><circle class="g" cx="312.2" cy="286.7" r="1.95"/><circle class="r" cx="308.1" cy="290.1" r="1.95"/><circle class="r" cx="304.5" cy="286.4" r="1.95"/><circle class="r" cx="316.7" cy="284.3" r="1.95"/><circle class="g" cx="308.2" cy="282.5" r="1.95"/><circle class="b" cx="305.5" cy="295.0" r="1.95"/><circle class="g" cx="308.9" cy="276.9" r="1.95"/><circle class="r" cx="319.6" cy="275.4" r="1.95"/><circle class="m" cx="318.9" cy="294.8" r="1.95"/><circle class="r" cx="323.0" cy="286.9" r="1.95"/><circle class="m" cx="319.1" cy="290.4" r="1.95"/><circle class="m" cx="323.7" cy="293.4" r="1.95"/><circle class="m" cx="319.9" cy="283.7" r="1.95"/><circle class="r" cx="323.0" cy="280.3" r="1.95"/><circle class="m" cx="323.0" cy="283.2" r="1.95"/><circle class="r" cx="312.4" cy="275.6" r="1.95"/><circle class="r" cx="316.2" cy="275.6" r="1.95"/><circle class="b" cx="315.7" cy="287.3" r="1.95"/><circle class="m" cx="305.5" cy="280.1" r="1.95"/><circle class="r" cx="319.8" cy="278.9" r="1.95"/><circle class="r" cx="308.2" cy="279.3" r="1.95"/><circle class="r" cx="316.5" cy="290.1" r="1.95"/><circle class="r" cx="312.5" cy="294.0" r="1.95"/><circle class="b" cx="309.0" cy="294.1" r="1.95"/><circle class="m" cx="319.5" cy="287.7" r="1.95"/><circle class="r" cx="324.0" cy="276.2" r="1.95"/><circle class="r" cx="304.3" cy="291.1" r="1.95"/><circle class="g" cx="304.4" cy="275.6" r="1.95"/><circle class="r" cx="307.9" cy="287.7" r="1.95"/><circle class="r" cx="316.8" cy="279.0" r="1.95"/><circle class="m" cx="303.0" cy="272.5" r="1.95"/><circle class="m" cx="306.0" cy="273.0" r="1.95"/><circle class="m" cx="309.0" cy="273.0" r="1.95"/><circle class="m" cx="311.5" cy="273.5" r="1.95"/><circle class="b" cx="301.2" cy="276.3" r="1.95"/><circle class="r" cx="302.9" cy="278.0" r="1.95"/><circle class="g" cx="310.4" cy="276.6" r="1.95"/><circle class="b" cx="313.5" cy="273.0" r="1.95"/><circle class="b" cx="313.5" cy="275.5" r="1.95"/><circle class="b" cx="313.8" cy="277.5" r="1.95"/><circle class="r" cx="316.0" cy="274.8" r="1.95"/><circle class="m" cx="319.0" cy="274.3" r="1.95"/><circle class="g" cx="324.2" cy="273.1" r="1.95"/><circle class="r" cx="324.2" cy="277.7" r="1.95"/><circle class="r" cx="322.5" cy="279.5" r="1.95"/><circle class="r" cx="315.0" cy="280.6" r="1.95"/><circle class="r" cx="319.5" cy="279.5" r="1.95"/><circle class="m" cx="316.7" cy="280.0" r="1.95"/><circle class="g" cx="310.4" cy="280.6" r="1.95"/><circle class="m" cx="303.5" cy="282.9" r="1.95"/><circle class="r" cx="305.5" cy="282.3" r="1.95"/><circle class="g" cx="307.5" cy="285.2" r="1.95"/><circle class="b" cx="311.0" cy="284.4" r="1.95"/><circle class="g" cx="315.0" cy="287.0" r="1.95"/><circle class="g" cx="319.5" cy="285.2" r="1.95"/><circle class="m" cx="321.3" cy="282.3" r="1.95"/><circle class="r" cx="324.7" cy="284.1" r="1.95"/><circle class="b" cx="300.9" cy="287.8" r="1.95"/><circle class="r" cx="304.0" cy="285.8" r="1.95"/><circle class="r" cx="305.5" cy="289.2" r="1.95"/><circle class="b" cx="310.4" cy="288.7" r="1.95"/><circle class="m" cx="320.0" cy="288.5" r="1.95"/><circle class="m" cx="322.5" cy="289.5" r="1.95"/><circle class="m" cx="325.0" cy="288.0" r="1.95"/><circle class="m" cx="321.0" cy="291.0" r="1.95"/><circle class="r" cx="322.4" cy="287.0" r="1.95"/><circle class="r" cx="301.2" cy="293.3" r="1.95"/><circle class="g" cx="303.5" cy="292.7" r="1.95"/><circle class="r" cx="307.5" cy="294.1" r="1.95"/><circle class="b" cx="310.7" cy="293.8" r="1.95"/><circle class="b" cx="315.5" cy="295.5" r="1.95"/><circle class="b" cx="317.8" cy="294.0" r="1.95"/><circle class="r" cx="320.1" cy="293.3" r="1.95"/><circle class="r" cx="323.6" cy="293.3" r="1.95"/><circle class="r" cx="329.9" cy="288.7" r="1.95"/><circle class="m" cx="329.9" cy="291.0" r="1.95"/><circle class="r" cx="329.9" cy="293.5" r="1.95"/><circle class="r" cx="329.9" cy="296.5" r="1.95"/><circle class="g" cx="303.5" cy="307.0" r="1.95"/><circle class="b" cx="307.1" cy="313.6" r="1.95"/><circle class="r" cx="302.6" cy="303.5" r="1.95"/><circle class="r" cx="306.1" cy="303.9" r="1.95"/><circle class="b" cx="306.1" cy="300.3" r="1.95"/><circle class="g" cx="303.1" cy="310.0" r="1.95"/><circle class="r" cx="306.7" cy="307.8" r="1.95"/><circle class="m" cx="303.9" cy="300.7" r="1.95"/><circle class="r" cx="302.6" cy="313.7" r="1.95"/><circle class="r" cx="307.0" cy="310.5" r="1.95"/><circle class="r" cx="307.1" cy="317.0" r="1.95"/><circle class="m" cx="303.6" cy="317.2" r="1.95"/><circle class="b" cx="324.8" cy="314.8" r="1.95"/><circle class="r" cx="319.1" cy="300.5" r="1.95"/><circle class="r" cx="318.1" cy="317.8" r="1.95"/><circle class="r" cx="321.1" cy="301.2" r="1.95"/><circle class="r" cx="324.7" cy="308.1" r="1.95"/><circle class="r" cx="322.6" cy="308.3" r="1.95"/><circle class="r" cx="321.5" cy="311.9" r="1.95"/><circle class="r" cx="325.5" cy="301.0" r="1.95"/><circle class="r" cx="319.1" cy="308.1" r="1.95"/><circle class="m" cx="321.5" cy="318.2" r="1.95"/><circle class="r" cx="319.0" cy="310.9" r="1.95"/><circle class="m" cx="322.2" cy="314.3" r="1.95"/><circle class="m" cx="322.1" cy="303.8" r="1.95"/><circle class="r" cx="325.1" cy="311.3" r="1.95"/><circle class="r" cx="318.3" cy="315.4" r="1.95"/><circle class="m" cx="318.7" cy="303.8" r="1.95"/><circle class="m" cx="325.3" cy="304.0" r="1.95"/><circle class="m" cx="302.3" cy="299.9" r="1.95"/><circle class="m" cx="304.5" cy="299.5" r="1.95"/><circle class="m" cx="306.3" cy="300.2" r="1.95"/><circle class="g" cx="301.2" cy="303.9" r="1.95"/><circle class="r" cx="306.9" cy="302.7" r="1.95"/><circle class="r" cx="306.9" cy="305.6" r="1.95"/><circle class="r" cx="302.3" cy="308.5" r="1.95"/><circle class="r" cx="303.0" cy="310.5" r="1.95"/><circle class="r" cx="303.5" cy="312.5" r="1.95"/><circle class="g" cx="305.2" cy="310.5" r="1.95"/><circle class="m" cx="306.9" cy="307.3" r="1.95"/><circle class="r" cx="307.2" cy="311.4" r="1.95"/><circle class="r" cx="307.2" cy="313.7" r="1.95"/><circle class="m" cx="304.6" cy="313.7" r="1.95"/><circle class="b" cx="302.3" cy="313.7" r="1.95"/><circle class="m" cx="302.3" cy="317.1" r="1.95"/><circle class="b" cx="300.6" cy="319.1" r="1.95"/><circle class="b" cx="304.6" cy="317.1" r="1.95"/><circle class="r" cx="306.6" cy="318.8" r="1.95"/><circle class="r" cx="302.3" cy="321.1" r="1.95"/><circle class="b" cx="309.5" cy="298.0" r="1.95"/><circle class="b" cx="310.0" cy="300.5" r="1.95"/><circle class="b" cx="310.5" cy="303.0" r="1.95"/><circle class="b" cx="314.4" cy="298.7" r="1.95"/><circle class="r" cx="316.1" cy="297.6" r="1.95"/><circle class="r" cx="316.1" cy="301.3" r="1.95"/><circle class="g" cx="317.8" cy="298.7" r="1.95"/><circle class="b" cx="315.0" cy="303.9" r="1.95"/><circle class="m" cx="316.4" cy="305.9" r="1.95"/><circle class="m" cx="321.9" cy="299.3" r="1.95"/><circle class="g" cx="320.7" cy="301.6" r="1.95"/><circle class="m" cx="324.2" cy="302.2" r="1.95"/><circle class="g" cx="325.3" cy="299.3" r="1.95"/><circle class="b" cx="324.7" cy="297.2" r="1.95"/><circle class="b" cx="325.0" cy="305.0" r="1.95"/><circle class="r" cx="320.5" cy="305.5" r="1.95"/><circle class="r" cx="323.0" cy="305.5" r="1.95"/><circle class="r" cx="325.5" cy="306.0" r="1.95"/><circle class="r" cx="321.5" cy="308.0" r="1.95"/><circle class="r" cx="324.0" cy="308.5" r="1.95"/><circle class="r" cx="326.0" cy="309.3" r="1.95"/><circle class="g" cx="315.5" cy="312.5" r="1.95"/><circle class="r" cx="317.8" cy="312.0" r="1.95"/><circle class="r" cx="317.3" cy="315.4" r="1.95"/><circle class="r" cx="315.5" cy="318.0" r="1.95"/><circle class="r" cx="321.9" cy="313.1" r="1.95"/><circle class="b" cx="319.0" cy="317.7" r="1.95"/><circle class="b" cx="325.3" cy="312.5" r="1.95"/><circle class="g" cx="322.0" cy="314.8" r="1.95"/><circle class="g" cx="324.5" cy="315.5" r="1.95"/><circle class="g" cx="326.5" cy="316.5" r="1.95"/><circle class="m" cx="322.4" cy="318.8" r="1.95"/><circle class="g" cx="321.3" cy="320.6" r="1.95"/><circle class="b" cx="325.3" cy="321.4" r="1.95"/><circle class="r" cx="316.7" cy="321.1" r="1.95"/><circle class="r" cx="329.9" cy="297.5" r="1.95"/><circle class="r" cx="329.9" cy="300.0" r="1.95"/><circle class="r" cx="329.9" cy="302.0" r="1.95"/><circle class="g" cx="329.9" cy="304.5" r="1.95"/><circle class="r" cx="329.6" cy="307.1" r="1.95"/><circle class="m" cx="329.6" cy="310.2" r="1.95"/><circle class="g" cx="329.9" cy="312.5" r="1.95"/><circle class="r" cx="329.5" cy="314.5" r="1.95"/><circle class="b" cx="330.5" cy="317.4" r="1.95"/><circle class="r" cx="329.3" cy="320.0" r="1.95"/><circle class="m" cx="333.4" cy="321.4" r="1.95"/><circle class="r" cx="302.2" cy="330.3" r="1.95"/><circle class="b" cx="302.9" cy="335.7" r="1.95"/><circle class="g" cx="304.8" cy="337.4" r="1.95"/><circle class="r" cx="303.0" cy="325.1" r="1.95"/><circle class="r" cx="304.6" cy="327.9" r="1.95"/><circle class="r" cx="304.9" cy="340.1" r="1.95"/><circle class="r" cx="303.0" cy="337.6" r="1.95"/><circle class="r" cx="304.6" cy="324.9" r="1.95"/><circle class="r" cx="302.3" cy="332.5" r="1.95"/><circle class="g" cx="307.0" cy="345.0" r="1.95"/><circle class="r" cx="307.0" cy="325.3" r="1.95"/><circle class="r" cx="304.8" cy="332.2" r="1.95"/><circle class="r" cx="304.9" cy="329.9" r="1.95"/><circle class="r" cx="305.1" cy="335.5" r="1.95"/><circle class="r" cx="306.9" cy="337.2" r="1.95"/><circle class="r" cx="302.7" cy="339.9" r="1.95"/><circle class="r" cx="302.6" cy="344.6" r="1.95"/><circle class="r" cx="305.1" cy="344.6" r="1.95"/><circle class="r" cx="302.0" cy="327.0" r="1.95"/><circle class="g" cx="302.6" cy="342.1" r="1.95"/><circle class="r" cx="304.7" cy="342.1" r="1.95"/><circle class="m" cx="305.8" cy="332.3" r="1.95"/><circle class="m" cx="305.2" cy="340.4" r="1.95"/><circle class="m" cx="300.6" cy="342.1" r="1.95"/><circle class="m" cx="303.5" cy="345.6" r="1.95"/><circle class="b" cx="307.5" cy="324.3" r="1.95"/><circle class="b" cx="307.5" cy="334.6" r="1.95"/><circle class="g" cx="307.5" cy="338.7" r="1.95"/><circle class="g" cx="300.6" cy="345.0" r="1.95"/><circle class="b" cx="315.3" cy="324.3" r="1.95"/><circle class="b" cx="318.5" cy="335.2" r="1.95"/><circle class="g" cx="315.3" cy="326.3" r="1.95"/><circle class="g" cx="316.7" cy="337.0" r="1.95"/><circle class="m" cx="317.3" cy="326.3" r="1.95"/><circle class="m" cx="316.7" cy="339.8" r="1.95"/><circle class="r" cx="316.7" cy="332.3" r="1.95"/><circle class="r" cx="316.7" cy="343.8" r="1.95"/><circle class="b" cx="315.5" cy="332.0" r="1.95"/><circle class="g" cx="317.3" cy="342.1" r="1.95"/><circle class="m" cx="331.3" cy="328.6" r="1.95"/><circle class="r" cx="325.0" cy="331.2" r="1.95"/><circle class="r" cx="333.6" cy="328.7" r="1.95"/><circle class="r" cx="327.3" cy="335.7" r="1.95"/><circle class="r" cx="325.4" cy="337.7" r="1.95"/><circle class="r" cx="331.6" cy="338.8" r="1.95"/><circle class="r" cx="329.7" cy="330.8" r="1.95"/><circle class="m" cx="329.0" cy="341.8" r="1.95"/><circle class="g" cx="322.5" cy="330.7" r="1.95"/><circle class="r" cx="333.8" cy="331.5" r="1.95"/><circle class="r" cx="327.0" cy="325.1" r="1.95"/><circle class="m" cx="324.6" cy="343.7" r="1.95"/><circle class="b" cx="322.9" cy="329.3" r="1.95"/><circle class="r" cx="326.7" cy="339.6" r="1.95"/><circle class="r" cx="331.3" cy="343.4" r="1.95"/><circle class="r" cx="333.1" cy="324.9" r="1.95"/><circle class="g" cx="329.5" cy="332.8" r="1.95"/><circle class="r" cx="333.3" cy="341.9" r="1.95"/><circle class="r" cx="329.7" cy="327.1" r="1.95"/><circle class="r" cx="330.8" cy="340.9" r="1.95"/><circle class="b" cx="331.3" cy="335.4" r="1.95"/><circle class="r" cx="333.0" cy="343.3" r="1.95"/><circle class="m" cx="322.3" cy="338.9" r="1.95"/><circle class="r" cx="333.3" cy="326.8" r="1.95"/><circle class="r" cx="329.4" cy="337.5" r="1.95"/><circle class="r" cx="325.4" cy="327.2" r="1.95"/><circle class="r" cx="322.4" cy="344.2" r="1.95"/><circle class="r" cx="326.6" cy="337.8" r="1.95"/><circle class="g" cx="322.4" cy="334.8" r="1.95"/><circle class="r" cx="333.8" cy="337.0" r="1.95"/><circle class="r" cx="327.4" cy="326.9" r="1.95"/><circle class="r" cx="325.0" cy="339.7" r="1.95"/><circle class="r" cx="323.4" cy="337.5" r="1.95"/><circle class="b" cx="332.8" cy="334.8" r="1.95"/><circle class="r" cx="327.6" cy="332.9" r="1.95"/><circle class="r" cx="333.4" cy="339.8" r="1.95"/><circle class="r" cx="327.5" cy="328.9" r="1.95"/><circle class="r" cx="328.9" cy="324.5" r="1.95"/><circle class="r" cx="323.1" cy="342.1" r="1.95"/><circle class="r" cx="325.3" cy="332.7" r="1.95"/><circle class="r" cx="330.6" cy="325.2" r="1.95"/><circle class="r" cx="322.2" cy="324.4" r="1.95"/><circle class="r" cx="322.3" cy="326.5" r="1.95"/><circle class="r" cx="329.3" cy="343.7" r="1.95"/><circle class="r" cx="326.6" cy="330.9" r="1.95"/><circle class="r" cx="326.8" cy="341.7" r="1.95"/><circle class="m" cx="333.5" cy="333.6" r="1.95"/><circle class="r" cx="323.2" cy="333.5" r="1.95"/><circle class="r" cx="327.0" cy="343.0" r="1.95"/><circle class="r" cx="330.6" cy="336.8" r="1.95"/><circle class="r" cx="325.1" cy="328.8" r="1.95"/><circle class="r" cx="325.1" cy="335.1" r="1.95"/><circle class="r" cx="331.5" cy="332.9" r="1.95"/><circle class="r" cx="329.1" cy="328.7" r="1.95"/><circle class="r" cx="328.9" cy="338.8" r="1.95"/><circle class="r" cx="327.1" cy="345.2" r="1.95"/><circle class="r" cx="331.3" cy="330.6" r="1.95"/><circle class="r" cx="324.9" cy="324.7" r="1.95"/><circle class="r" cx="328.7" cy="335.5" r="1.95"/><circle class="b" cx="331.1" cy="326.2" r="1.95"/><circle class="r" cx="325.4" cy="341.9" r="1.95"/><circle class="b" cx="321.3" cy="323.7" r="1.95"/><circle class="b" cx="324.7" cy="322.6" r="1.95"/><circle class="b" cx="323.6" cy="336.4" r="1.95"/><circle class="b" cx="321.3" cy="345.0" r="1.95"/><circle class="m" cx="329.3" cy="324.9" r="1.95"/><circle class="m" cx="332.8" cy="330.6" r="1.95"/><circle class="m" cx="327.0" cy="337.0" r="1.95"/><circle class="m" cx="322.4" cy="341.8" r="1.95"/><circle class="g" cx="321.3" cy="338.7" r="1.95"/><circle class="r" cx="303.8" cy="347.6" r="1.95"/><circle class="b" cx="300.9" cy="349.9" r="1.95"/><circle class="b" cx="307.2" cy="349.3" r="1.95"/><circle class="g" cx="305.2" cy="351.6" r="1.95"/><circle class="m" cx="305.2" cy="355.6" r="1.95"/><circle class="r" cx="305.8" cy="357.3" r="1.95"/><circle class="m" cx="302.9" cy="359.4" r="1.95"/><circle class="b" cx="306.4" cy="359.4" r="1.95"/><circle class="r" cx="300.6" cy="362.8" r="1.95"/><circle class="r" cx="303.5" cy="362.0" r="1.95"/><circle class="m" cx="305.5" cy="363.1" r="1.95"/><circle class="r" cx="305.5" cy="365.4" r="1.95"/><circle class="r" cx="306.7" cy="367.1" r="1.95"/><circle class="r" cx="301.5" cy="365.5" r="1.95"/><circle class="r" cx="303.5" cy="366.5" r="1.95"/><circle class="b" cx="300.6" cy="369.1" r="1.95"/><circle class="r" cx="303.2" cy="369.4" r="1.95"/><circle class="r" cx="301.5" cy="371.5" r="1.95"/><circle class="m" cx="306.4" cy="369.7" r="1.95"/><circle class="g" cx="316.1" cy="347.3" r="1.95"/><circle class="r" cx="316.1" cy="349.3" r="1.95"/><circle class="r" cx="317.6" cy="352.7" r="1.95"/><circle class="m" cx="317.6" cy="354.2" r="1.95"/><circle class="g" cx="317.6" cy="357.1" r="1.95"/><circle class="r" cx="317.6" cy="361.4" r="1.95"/><circle class="m" cx="317.6" cy="364.8" r="1.95"/><circle class="r" cx="317.3" cy="367.1" r="1.95"/><circle class="r" cx="317.0" cy="370.9" r="1.95"/><circle class="r" cx="317.0" cy="372.5" r="1.95"/><circle class="m" cx="317.0" cy="375.4" r="1.95"/><circle class="g" cx="317.0" cy="377.7" r="1.95"/><circle class="b" cx="317.0" cy="380.3" r="1.95"/><circle class="g" cx="322.8" cy="347.6" r="1.95"/><circle class="r" cx="322.8" cy="351.0" r="1.95"/><circle class="m" cx="322.8" cy="355.0" r="1.95"/><circle class="g" cx="322.8" cy="359.4" r="1.95"/><circle class="b" cx="322.8" cy="364.8" r="1.95"/><circle class="m" cx="323.3" cy="370.8" r="1.95"/><circle class="r" cx="328.0" cy="350.2" r="1.95"/><circle class="r" cx="335.0" cy="350.3" r="1.95"/><circle class="r" cx="323.5" cy="358.7" r="1.95"/><circle class="r" cx="328.2" cy="354.0" r="1.95"/><circle class="r" cx="329.0" cy="351.7" r="1.95"/><circle class="r" cx="328.9" cy="366.0" r="1.95"/><circle class="r" cx="326.5" cy="356.7" r="1.95"/><circle class="r" cx="331.0" cy="359.2" r="1.95"/><circle class="r" cx="323.7" cy="372.7" r="1.95"/><circle class="r" cx="330.6" cy="350.5" r="1.95"/><circle class="r" cx="330.2" cy="353.9" r="1.95"/><circle class="r" cx="328.4" cy="357.5" r="1.95"/><circle class="g" cx="326.7" cy="359.5" r="1.95"/><circle class="b" cx="330.2" cy="365.9" r="1.95"/><circle class="r" cx="330.3" cy="364.2" r="1.95"/><circle class="r" cx="333.4" cy="351.7" r="1.95"/><circle class="r" cx="330.6" cy="356.7" r="1.95"/><circle class="r" cx="330.3" cy="352.1" r="1.95"/><circle class="r" cx="325.8" cy="368.1" r="1.95"/><circle class="g" cx="324.2" cy="357.5" r="1.95"/><circle class="r" cx="328.5" cy="364.1" r="1.95"/><circle class="r" cx="328.3" cy="367.6" r="1.95"/><circle class="r" cx="325.5" cy="352.9" r="1.95"/><circle class="r" cx="333.8" cy="356.1" r="1.95"/><circle class="g" cx="324.6" cy="349.2" r="1.95"/><circle class="r" cx="327.9" cy="359.4" r="1.95"/><circle class="r" cx="334.7" cy="354.8" r="1.95"/><circle class="r" cx="323.9" cy="363.3" r="1.95"/><circle class="r" cx="333.0" cy="354.6" r="1.95"/><circle class="r" cx="326.9" cy="355.0" r="1.95"/><circle class="r" cx="326.0" cy="361.7" r="1.95"/><circle class="r" cx="333.6" cy="350.6" r="1.95"/><circle class="r" cx="324.5" cy="354.3" r="1.95"/><circle class="r" cx="330.6" cy="361.6" r="1.95"/><circle class="r" cx="325.8" cy="370.5" r="1.95"/><circle class="r" cx="323.5" cy="361.6" r="1.95"/><circle class="r" cx="325.9" cy="365.4" r="1.95"/><circle class="r" cx="328.5" cy="361.6" r="1.95"/><circle class="g" cx="333.3" cy="364.2" r="1.95"/><circle class="r" cx="324.3" cy="365.5" r="1.95"/><circle class="r" cx="323.5" cy="352.1" r="1.95"/><circle class="r" cx="325.7" cy="350.2" r="1.95"/><circle class="r" cx="324.2" cy="368.1" r="1.95"/><circle class="r" cx="332.7" cy="361.6" r="1.95"/><circle class="r" cx="333.8" cy="358.4" r="1.95"/><circle class="r" cx="326.8" cy="363.7" r="1.95"/><circle class="g" cx="325.6" cy="352.2" r="1.95"/><circle class="m" cx="327.9" cy="358.5" r="1.95"/><circle class="b" cx="328.2" cy="368.3" r="1.95"/><circle class="m" cx="326.8" cy="373.5" r="1.95"/><circle class="g" cx="326.8" cy="374.7" r="1.95"/><circle class="b" cx="326.8" cy="375.7" r="1.95"/><circle class="m" cx="331.7" cy="356.8" r="1.95"/><circle class="g" cx="331.7" cy="359.4" r="1.95"/><circle class="g" cx="334.6" cy="355.3" r="1.95"/><circle class="r" cx="334.3" cy="360.2" r="1.95"/><circle class="r" cx="334.3" cy="362.5" r="1.95"/><circle class="r" cx="334.3" cy="364.5" r="1.95"/><circle class="b" cx="331.7" cy="364.2" r="1.95"/><circle class="r" cx="334.6" cy="367.4" r="1.95"/><circle class="b" cx="334.6" cy="369.7" r="1.95"/><circle class="b" cx="334.6" cy="378.9" r="1.95"/><circle class="g" cx="334.6" cy="380.6" r="1.95"/><circle class="m" cx="334.6" cy="382.3" r="1.95"/><circle class="r" cx="334.6" cy="384.1" r="1.95"/><circle class="r" cx="334.6" cy="386.5" r="1.95"/><circle class="r" cx="335.0" cy="389.0" r="1.95"/><circle class="r" cx="335.2" cy="391.0" r="1.95"/><circle class="m" cx="348.7" cy="322.7" r="1.95"/><circle class="r" cx="348.7" cy="325.1" r="1.95"/><circle class="g" cx="348.7" cy="327.5" r="1.95"/><circle class="m" cx="349.0" cy="335.2" r="1.95"/><circle class="g" cx="346.1" cy="336.8" r="1.95"/><circle class="m" cx="346.1" cy="338.8" r="1.95"/><circle class="r" cx="347.0" cy="338.5" r="1.95"/><circle class="r" cx="349.5" cy="339.5" r="1.95"/><circle class="r" cx="346.5" cy="341.0" r="1.95"/><circle class="r" cx="349.0" cy="342.0" r="1.95"/><circle class="r" cx="347.5" cy="344.0" r="1.95"/><circle class="r" cx="350.0" cy="345.0" r="1.95"/><circle class="m" cx="346.5" cy="346.9" r="1.95"/><circle class="r" cx="351.0" cy="347.7" r="1.95"/><circle class="m" cx="346.4" cy="347.6" r="1.95"/><circle class="g" cx="348.4" cy="349.3" r="1.95"/><circle class="r" cx="350.1" cy="348.1" r="1.95"/><circle class="m" cx="351.0" cy="351.6" r="1.95"/><circle class="r" cx="348.4" cy="353.6" r="1.95"/><circle class="g" cx="346.4" cy="354.2" r="1.95"/><circle class="g" cx="351.3" cy="354.5" r="1.95"/><circle class="r" cx="349.5" cy="358.2" r="1.95"/><circle class="r" cx="346.1" cy="359.4" r="1.95"/><circle class="r" cx="348.0" cy="356.5" r="1.95"/><circle class="m" cx="347.2" cy="362.0" r="1.95"/><circle class="m" cx="351.8" cy="360.0" r="1.95"/><circle class="r" cx="350.1" cy="363.7" r="1.95"/><circle class="r" cx="348.5" cy="361.0" r="1.95"/><circle class="g" cx="346.7" cy="365.4" r="1.95"/><circle class="g" cx="346.7" cy="367.1" r="1.95"/><circle class="r" cx="350.7" cy="367.7" r="1.95"/><circle class="b" cx="346.1" cy="368.8" r="1.95"/><circle class="g" cx="353.3" cy="368.6" r="1.95"/><circle class="g" cx="341.5" cy="368.3" r="1.95"/><circle class="r" cx="340.9" cy="370.0" r="1.95"/><circle class="r" cx="343.9" cy="390.2" r="1.95"/><circle class="r" cx="343.4" cy="388.7" r="1.95"/><circle class="r" cx="343.4" cy="387.0" r="1.95"/><circle class="r" cx="343.3" cy="382.8" r="1.95"/><circle class="r" cx="343.6" cy="384.6" r="1.95"/><circle class="r" cx="349.4" cy="373.5" r="1.95"/><circle class="r" cx="347.6" cy="375.1" r="1.95"/><circle class="r" cx="347.6" cy="377.2" r="1.95"/><circle class="r" cx="351.6" cy="390.0" r="1.95"/><circle class="r" cx="353.9" cy="388.0" r="1.95"/><circle class="r" cx="350.0" cy="389.4" r="1.95"/><circle class="r" cx="351.8" cy="387.8" r="1.95"/><circle class="r" cx="351.7" cy="375.5" r="1.95"/><circle class="r" cx="351.9" cy="368.1" r="1.95"/><circle class="r" cx="347.2" cy="371.6" r="1.95"/><circle class="r" cx="354.1" cy="389.9" r="1.95"/><circle class="r" cx="351.1" cy="384.0" r="1.95"/><circle class="r" cx="351.6" cy="377.2" r="1.95"/><circle class="r" cx="353.4" cy="373.2" r="1.95"/><circle class="r" cx="347.9" cy="387.2" r="1.95"/><circle class="r" cx="353.3" cy="377.6" r="1.95"/><circle class="r" cx="347.2" cy="385.3" r="1.95"/><circle class="r" cx="350.0" cy="381.2" r="1.95"/><circle class="r" cx="353.5" cy="383.2" r="1.95"/><circle class="r" cx="349.9" cy="383.6" r="1.95"/><circle class="r" cx="347.5" cy="381.6" r="1.95"/><circle class="r" cx="348.0" cy="373.8" r="1.95"/><circle class="r" cx="353.9" cy="371.3" r="1.95"/><circle class="r" cx="353.9" cy="365.4" r="1.95"/><circle class="r" cx="351.2" cy="370.0" r="1.95"/><circle class="r" cx="349.2" cy="375.7" r="1.95"/><circle class="r" cx="351.2" cy="371.4" r="1.95"/><circle class="r" cx="353.1" cy="367.5" r="1.95"/><circle class="r" cx="347.5" cy="389.9" r="1.95"/><circle class="r" cx="349.7" cy="371.6" r="1.95"/><circle class="r" cx="349.4" cy="386.1" r="1.95"/><circle class="r" cx="347.8" cy="383.9" r="1.95"/><circle class="r" cx="352.0" cy="379.6" r="1.95"/><circle class="r" cx="351.3" cy="381.7" r="1.95"/><circle class="r" cx="354.0" cy="369.6" r="1.95"/><circle class="r" cx="351.2" cy="365.8" r="1.95"/><circle class="r" cx="353.8" cy="381.2" r="1.95"/><circle class="r" cx="353.9" cy="386.0" r="1.95"/><circle class="r" cx="350.0" cy="365.8" r="1.95"/><circle class="r" cx="353.8" cy="375.3" r="1.95"/><circle class="r" cx="353.7" cy="379.8" r="1.95"/><circle class="r" cx="351.9" cy="385.6" r="1.95"/><circle class="r" cx="350.0" cy="377.2" r="1.95"/><circle class="r" cx="349.4" cy="387.3" r="1.95"/><circle class="r" cx="351.8" cy="373.3" r="1.95"/><circle class="r" cx="349.8" cy="369.2" r="1.95"/><circle class="r" cx="349.6" cy="380.0" r="1.95"/><circle class="r" cx="347.2" cy="379.3" r="1.95"/><circle class="b" cx="334.8" cy="370.0" r="1.95"/><circle class="b" cx="334.8" cy="379.0" r="1.95"/><circle class="g" cx="334.8" cy="380.5" r="1.95"/><circle class="r" cx="334.8" cy="383.5" r="1.95"/><circle class="r" cx="334.8" cy="386.0" r="1.95"/><circle class="r" cx="334.8" cy="388.5" r="1.95"/><circle class="r" cx="334.8" cy="391.0" r="1.95"/><circle class="b" cx="346.1" cy="369.3" r="1.95"/><circle class="b" cx="346.0" cy="372.0" r="1.95"/><circle class="b" cx="350.0" cy="381.5" r="1.95"/><circle class="g" cx="346.1" cy="365.5" r="1.95"/><circle class="g" cx="349.5" cy="379.5" r="1.95"/><circle class="g" cx="354.5" cy="381.0" r="1.95"/><circle class="g" cx="343.0" cy="392.5" r="1.95"/><circle class="r" cx="360.7" cy="380.6" r="1.95"/><circle class="b" cx="360.7" cy="382.5" r="1.95"/><circle class="g" cx="361.0" cy="383.2" r="1.95"/><circle class="r" cx="361.3" cy="387.7" r="1.95"/><circle class="r" cx="361.2" cy="390.8" r="1.95"/><circle class="r" cx="361.3" cy="388.7" r="1.95"/><circle class="b" cx="369.6" cy="388.2" r="1.95"/><circle class="r" cx="371.1" cy="388.2" r="1.95"/><circle class="r" cx="372.8" cy="388.7" r="1.95"/><circle class="r" cx="370.1" cy="390.4" r="1.95"/><circle class="r" cx="373.1" cy="391.0" r="1.95"/><circle class="b" cx="378.4" cy="391.6" r="1.95"/><circle class="b" cx="383.8" cy="387.5" r="1.95"/><circle class="g" cx="383.0" cy="387.2" r="1.95"/><circle class="r" cx="382.5" cy="389.8" r="1.95"/><circle class="r" cx="384.5" cy="391.0" r="1.95"/><circle class="r" cx="382.8" cy="391.8" r="1.95"/><circle class="r" cx="385.0" cy="390.0" r="1.95"/><circle class="g" cx="388.2" cy="391.3" r="1.95"/><circle class="r" cx="393.9" cy="389.6" r="1.95"/><circle class="r" cx="393.9" cy="391.5" r="1.95"/><circle class="m" cx="413.5" cy="374.5" r="1.95"/><circle class="r" cx="413.5" cy="377.0" r="1.95"/><circle class="g" cx="402.9" cy="389.5" r="1.95"/><circle class="g" cx="407.0" cy="384.6" r="1.95"/><circle class="b" cx="410.5" cy="384.3" r="1.95"/><circle class="r" cx="408.7" cy="386.2" r="1.95"/><circle class="r" cx="405.1" cy="389.6" r="1.95"/><circle class="r" cx="410.6" cy="388.1" r="1.95"/><circle class="r" cx="403.9" cy="391.6" r="1.95"/><circle class="r" cx="410.9" cy="390.5" r="1.95"/><circle class="r" cx="412.6" cy="388.0" r="1.95"/><circle class="r" cx="405.5" cy="388.5" r="1.95"/><circle class="r" cx="410.5" cy="386.2" r="1.95"/><circle class="r" cx="407.5" cy="390.2" r="1.95"/><circle class="r" cx="406.9" cy="388.5" r="1.95"/><circle class="r" cx="414.2" cy="388.5" r="1.95"/><circle class="r" cx="403.5" cy="390.4" r="1.95"/><circle class="r" cx="407.1" cy="386.9" r="1.95"/><circle class="r" cx="408.6" cy="391.6" r="1.95"/><circle class="r" cx="409.3" cy="389.6" r="1.95"/><circle class="r" cx="412.2" cy="386.2" r="1.95"/><circle class="r" cx="412.8" cy="390.3" r="1.95"/><circle class="r" cx="405.8" cy="391.8" r="1.95"/><circle class="r" cx="409.1" cy="388.4" r="1.95"/><circle class="r" cx="410.7" cy="391.8" r="1.95"/><circle class="r" cx="414.3" cy="386.9" r="1.95"/><circle class="r" cx="412.8" cy="391.9" r="1.95"/><circle class="b" cx="413.5" cy="383.4" r="1.95"/><circle class="m" cx="420.7" cy="284.1" r="1.95"/><circle class="g" cx="420.7" cy="290.7" r="1.95"/><circle class="b" cx="422.1" cy="304.8" r="1.95"/><circle class="g" cx="422.3" cy="310.2" r="1.95"/><circle class="r" cx="420.6" cy="311.0" r="1.95"/><circle class="m" cx="422.1" cy="317.7" r="1.95"/><circle class="r" cx="422.1" cy="320.6" r="1.95"/><circle class="m" cx="422.1" cy="323.2" r="1.95"/><circle class="g" cx="422.1" cy="329.0" r="1.95"/><circle class="b" cx="421.5" cy="331.5" r="1.95"/><circle class="r" cx="423.5" cy="341.3" r="1.95"/><circle class="m" cx="423.5" cy="352.7" r="1.95"/><circle class="r" cx="423.8" cy="355.6" r="1.95"/><circle class="r" cx="420.9" cy="357.3" r="1.95"/><circle class="r" cx="422.6" cy="360.8" r="1.95"/><circle class="b" cx="425.0" cy="360.8" r="1.95"/><circle class="m" cx="420.6" cy="362.8" r="1.95"/><circle class="g" cx="420.6" cy="366.5" r="1.95"/><circle class="r" cx="423.5" cy="366.0" r="1.95"/><circle class="r" cx="423.8" cy="370.0" r="1.95"/><circle class="g" cx="420.3" cy="370.6" r="1.95"/><circle class="r" cx="423.0" cy="345.0" r="1.95"/><circle class="r" cx="422.0" cy="348.0" r="1.95"/><circle class="r" cx="423.5" cy="350.0" r="1.95"/><circle class="g" cx="435.3" cy="347.9" r="1.95"/><circle class="b" cx="436.4" cy="349.6" r="1.95"/><circle class="m" cx="435.3" cy="353.9" r="1.95"/><circle class="g" cx="436.4" cy="356.8" r="1.95"/><circle class="r" cx="435.3" cy="364.5" r="1.95"/><circle class="b" cx="436.7" cy="366.0" r="1.95"/><circle class="b" cx="433.3" cy="368.6" r="1.95"/><circle class="r" cx="435.9" cy="370.9" r="1.95"/><circle class="r" cx="439.3" cy="347.5" r="1.95"/><circle class="r" cx="439.5" cy="350.0" r="1.95"/><circle class="r" cx="439.3" cy="352.5" r="1.95"/><circle class="r" cx="439.5" cy="355.0" r="1.95"/><circle class="r" cx="439.3" cy="357.5" r="1.95"/><circle class="r" cx="439.5" cy="360.0" r="1.95"/><circle class="r" cx="443.3" cy="353.9" r="1.95"/><circle class="r" cx="443.3" cy="358.5" r="1.95"/><circle class="r" cx="442.2" cy="363.7" r="1.95"/><circle class="r" cx="441.0" cy="366.0" r="1.95"/><circle class="r" cx="442.5" cy="371.0" r="1.95"/><circle class="g" cx="443.9" cy="360.8" r="1.95"/><circle class="m" cx="439.9" cy="361.7" r="1.95"/><circle class="m" cx="442.8" cy="368.6" r="1.95"/><circle class="g" cx="439.9" cy="368.8" r="1.95"/><circle class="b" cx="429.5" cy="384.5" r="1.95"/><circle class="g" cx="428.0" cy="385.0" r="1.95"/><circle class="g" cx="431.0" cy="385.5" r="1.95"/><circle class="r" cx="422.1" cy="388.9" r="1.95"/><circle class="r" cx="423.6" cy="376.8" r="1.95"/><circle class="r" cx="422.0" cy="376.2" r="1.95"/><circle class="r" cx="424.1" cy="368.3" r="1.95"/><circle class="r" cx="421.3" cy="372.7" r="1.95"/><circle class="r" cx="423.4" cy="374.2" r="1.95"/><circle class="r" cx="423.7" cy="378.2" r="1.95"/><circle class="r" cx="423.8" cy="390.3" r="1.95"/><circle class="r" cx="423.4" cy="373.1" r="1.95"/><circle class="r" cx="423.9" cy="380.3" r="1.95"/><circle class="r" cx="421.7" cy="384.7" r="1.95"/><circle class="r" cx="421.1" cy="368.6" r="1.95"/><circle class="r" cx="423.6" cy="370.6" r="1.95"/><circle class="r" cx="421.9" cy="390.6" r="1.95"/><circle class="r" cx="421.9" cy="380.9" r="1.95"/><circle class="r" cx="423.5" cy="382.5" r="1.95"/><circle class="r" cx="421.8" cy="382.7" r="1.95"/><circle class="r" cx="423.4" cy="388.5" r="1.95"/><circle class="r" cx="423.5" cy="387.0" r="1.95"/><circle class="r" cx="422.0" cy="378.7" r="1.95"/><circle class="r" cx="421.7" cy="370.7" r="1.95"/><circle class="r" cx="423.5" cy="384.2" r="1.95"/><circle class="r" cx="421.9" cy="386.4" r="1.95"/><circle class="r" cx="421.4" cy="374.5" r="1.95"/><circle class="r" cx="429.4" cy="387.0" r="1.95"/><circle class="r" cx="429.2" cy="390.7" r="1.95"/><circle class="r" cx="427.4" cy="388.7" r="1.95"/><circle class="r" cx="427.2" cy="387.2" r="1.95"/><circle class="r" cx="429.1" cy="389.3" r="1.95"/><circle class="r" cx="426.9" cy="391.2" r="1.95"/><circle class="r" cx="432.8" cy="390.9" r="1.95"/><circle class="r" cx="432.9" cy="378.6" r="1.95"/><circle class="r" cx="435.4" cy="382.3" r="1.95"/><circle class="r" cx="435.3" cy="371.1" r="1.95"/><circle class="r" cx="433.0" cy="376.3" r="1.95"/><circle class="r" cx="433.1" cy="380.6" r="1.95"/><circle class="r" cx="435.8" cy="372.5" r="1.95"/><circle class="r" cx="435.6" cy="388.1" r="1.95"/><circle class="r" cx="435.1" cy="390.2" r="1.95"/><circle class="r" cx="435.2" cy="386.3" r="1.95"/><circle class="r" cx="435.2" cy="369.0" r="1.95"/><circle class="r" cx="433.2" cy="383.1" r="1.95"/><circle class="r" cx="435.7" cy="384.9" r="1.95"/><circle class="r" cx="433.4" cy="372.4" r="1.95"/><circle class="r" cx="434.9" cy="378.3" r="1.95"/><circle class="r" cx="433.0" cy="368.1" r="1.95"/><circle class="r" cx="435.6" cy="376.3" r="1.95"/><circle class="r" cx="433.6" cy="386.9" r="1.95"/><circle class="r" cx="433.4" cy="374.7" r="1.95"/><circle class="r" cx="433.2" cy="370.1" r="1.95"/><circle class="r" cx="433.6" cy="388.9" r="1.95"/><circle class="r" cx="433.5" cy="384.8" r="1.95"/><circle class="r" cx="435.1" cy="380.3" r="1.95"/><circle class="r" cx="435.3" cy="374.8" r="1.95"/><circle class="r" cx="442.9" cy="384.6" r="1.95"/><circle class="r" cx="443.1" cy="378.5" r="1.95"/><circle class="r" cx="443.3" cy="383.0" r="1.95"/><circle class="r" cx="441.3" cy="386.3" r="1.95"/><circle class="r" cx="441.5" cy="374.3" r="1.95"/><circle class="r" cx="441.0" cy="384.1" r="1.95"/><circle class="r" cx="441.7" cy="370.4" r="1.95"/><circle class="r" cx="441.5" cy="364.7" r="1.95"/><circle class="r" cx="441.7" cy="388.7" r="1.95"/><circle class="r" cx="443.0" cy="388.8" r="1.95"/><circle class="r" cx="441.5" cy="378.2" r="1.95"/><circle class="r" cx="441.5" cy="372.4" r="1.95"/><circle class="r" cx="441.2" cy="382.5" r="1.95"/><circle class="r" cx="443.2" cy="386.2" r="1.95"/><circle class="r" cx="443.1" cy="364.2" r="1.95"/><circle class="r" cx="441.0" cy="376.2" r="1.95"/><circle class="r" cx="443.0" cy="373.0" r="1.95"/><circle class="r" cx="442.8" cy="370.9" r="1.95"/><circle class="r" cx="441.0" cy="368.2" r="1.95"/><circle class="r" cx="442.9" cy="375.1" r="1.95"/><circle class="r" cx="441.7" cy="390.2" r="1.95"/><circle class="r" cx="440.9" cy="366.2" r="1.95"/><circle class="r" cx="443.2" cy="368.8" r="1.95"/><circle class="r" cx="441.6" cy="380.4" r="1.95"/><circle class="r" cx="444.9" cy="388.1" r="1.95"/><circle class="r" cx="445.6" cy="377.6" r="1.95"/><circle class="r" cx="445.2" cy="383.6" r="1.95"/><circle class="r" cx="445.6" cy="386.3" r="1.95"/><circle class="r" cx="445.3" cy="382.0" r="1.95"/><circle class="r" cx="445.3" cy="390.5" r="1.95"/><circle class="r" cx="445.7" cy="380.3" r="1.95"/><circle class="g" cx="424.7" cy="376.6" r="1.95"/><circle class="g" cx="439.7" cy="381.2" r="1.95"/><circle class="m" cx="423.9" cy="380.3" r="1.95"/><circle class="r" cx="437.6" cy="213.6" r="1.95"/><circle class="m" cx="436.2" cy="214.4" r="1.95"/><circle class="r" cx="436.6" cy="221.7" r="1.95"/><circle class="m" cx="437.8" cy="223.6" r="1.95"/><circle class="g" cx="436.4" cy="225.8" r="1.95"/><circle class="r" cx="436.6" cy="229.0" r="1.95"/><circle class="m" cx="438.5" cy="230.6" r="1.95"/><circle class="r" cx="437.6" cy="232.8" r="1.95"/><circle class="b" cx="436.2" cy="245.1" r="1.95"/><circle class="g" cx="438.5" cy="244.6" r="1.95"/><circle class="m" cx="436.8" cy="247.0" r="1.95"/><circle class="g" cx="437.6" cy="249.9" r="1.95"/><circle class="r" cx="438.1" cy="251.8" r="1.95"/><circle class="m" cx="437.4" cy="255.1" r="1.95"/><circle class="g" cx="437.4" cy="258.4" r="1.95"/><circle class="r" cx="437.4" cy="260.8" r="1.95"/><circle class="g" cx="436.8" cy="262.5" r="1.95"/><circle class="b" cx="437.6" cy="263.8" r="1.95"/><circle class="m" cx="438.1" cy="267.0" r="1.95"/><circle class="g" cx="435.9" cy="268.9" r="1.95"/><circle class="r" cx="438.3" cy="268.9" r="1.95"/><circle class="r" cx="437.1" cy="271.2" r="1.95"/><circle class="b" cx="435.9" cy="273.6" r="1.95"/><circle class="g" cx="439.0" cy="274.6" r="1.95"/><circle class="r" cx="437.6" cy="276.0" r="1.95"/><circle class="r" cx="438.5" cy="277.4" r="1.95"/><circle class="b" cx="436.6" cy="278.8" r="1.95"/><circle class="r" cx="437.8" cy="281.9" r="1.95"/><circle class="g" cx="435.7" cy="282.2" r="1.95"/><circle class="b" cx="437.0" cy="285.2" r="1.95"/><circle class="m" cx="437.6" cy="286.5" r="1.95"/><circle class="m" cx="438.1" cy="288.5" r="1.95"/><circle class="r" cx="437.4" cy="292.8" r="1.95"/><circle class="b" cx="437.6" cy="296.1" r="1.95"/><circle class="g" cx="438.8" cy="302.8" r="1.95"/><circle class="r" cx="437.0" cy="305.0" r="1.95"/><circle class="r" cx="439.0" cy="305.0" r="1.95"/><circle class="g" cx="438.0" cy="306.5" r="1.95"/><circle class="b" cx="438.2" cy="309.1" r="1.95"/><circle class="r" cx="438.8" cy="312.0" r="1.95"/><circle class="r" cx="437.6" cy="308.5" r="1.95"/><circle class="r" cx="436.5" cy="320.5" r="1.95"/><circle class="r" cx="438.8" cy="320.5" r="1.95"/><circle class="m" cx="438.8" cy="322.9" r="1.95"/><circle class="g" cx="438.8" cy="327.0" r="1.95"/><circle class="m" cx="436.5" cy="329.8" r="1.95"/><circle class="r" cx="439.4" cy="333.8" r="1.95"/><circle class="m" cx="435.9" cy="337.9" r="1.95"/><circle class="b" cx="438.8" cy="339.0" r="1.95"/><circle class="g" cx="438.8" cy="340.7" r="1.95"/><circle class="m" cx="438.8" cy="343.6" r="1.95"/><circle class="g" cx="436.5" cy="345.9" r="1.95"/><circle class="r" cx="438.8" cy="345.9" r="1.95"/><circle class="r" cx="448.6" cy="376.2" r="1.95"/><circle class="b" cx="449.0" cy="378.5" r="1.95"/><circle class="g" cx="447.2" cy="379.8" r="1.95"/><circle class="r" cx="451.9" cy="384.0" r="1.95"/><circle class="r" cx="453.9" cy="387.8" r="1.95"/><circle class="r" cx="453.7" cy="390.4" r="1.95"/><circle class="r" cx="450.2" cy="385.8" r="1.95"/><circle class="r" cx="450.4" cy="388.4" r="1.95"/><circle class="r" cx="450.0" cy="390.5" r="1.95"/><circle class="r" cx="453.6" cy="386.2" r="1.95"/><circle class="r" cx="451.6" cy="386.7" r="1.95"/><circle class="r" cx="447.8" cy="386.2" r="1.95"/><circle class="r" cx="448.1" cy="388.2" r="1.95"/><circle class="r" cx="452.5" cy="388.0" r="1.95"/><circle class="r" cx="447.7" cy="384.7" r="1.95"/><circle class="r" cx="452.2" cy="390.2" r="1.95"/><circle class="r" cx="448.5" cy="390.6" r="1.95"/><circle class="r" cx="449.7" cy="384.7" r="1.95"/><circle class="b" cx="465.7" cy="385.7" r="1.95"/><circle class="r" cx="465.8" cy="391.9" r="1.95"/><circle class="r" cx="467.1" cy="388.5" r="1.95"/><circle class="r" cx="468.7" cy="389.0" r="1.95"/><circle class="r" cx="466.7" cy="391.7" r="1.95"/><circle class="r" cx="468.4" cy="390.4" r="1.95"/><circle class="r" cx="467.1" cy="389.9" r="1.95"/><circle class="r" cx="468.7" cy="391.3" r="1.95"/><circle class="r" cx="465.7" cy="390.2" r="1.95"/><circle class="r" cx="465.5" cy="388.8" r="1.95"/><circle class="g" cx="478.3" cy="375.8" r="1.95"/><circle class="b" cx="475.6" cy="379.4" r="1.95"/><circle class="r" cx="477.6" cy="391.0" r="1.95"/><circle class="r" cx="477.6" cy="380.9" r="1.95"/><circle class="r" cx="478.2" cy="387.5" r="1.95"/><circle class="r" cx="479.3" cy="381.9" r="1.95"/><circle class="r" cx="479.6" cy="391.1" r="1.95"/><circle class="r" cx="476.2" cy="382.0" r="1.95"/><circle class="r" cx="476.0" cy="385.1" r="1.95"/><circle class="r" cx="479.4" cy="385.3" r="1.95"/><circle class="r" cx="478.0" cy="378.4" r="1.95"/><circle class="r" cx="477.7" cy="385.8" r="1.95"/><circle class="r" cx="480.0" cy="389.2" r="1.95"/><circle class="r" cx="479.6" cy="387.3" r="1.95"/><circle class="r" cx="477.7" cy="388.5" r="1.95"/><circle class="r" cx="476.6" cy="383.9" r="1.95"/><circle class="r" cx="477.8" cy="381.8" r="1.95"/><circle class="r" cx="480.0" cy="383.9" r="1.95"/><circle class="r" cx="476.5" cy="390.8" r="1.95"/><circle class="r" cx="477.5" cy="384.3" r="1.95"/><circle class="r" cx="479.5" cy="379.0" r="1.95"/><circle class="r" cx="476.3" cy="387.1" r="1.95"/><circle class="r" cx="475.9" cy="380.1" r="1.95"/><circle class="r" cx="479.7" cy="380.1" r="1.95"/><circle class="r" cx="476.0" cy="388.7" r="1.95"/><circle class="g" cx="486.4" cy="380.7" r="1.95"/><circle class="b" cx="485.0" cy="382.0" r="1.95"/><circle class="r" cx="486.2" cy="384.3" r="1.95"/><circle class="r" cx="488.3" cy="387.5" r="1.95"/><circle class="r" cx="488.2" cy="384.6" r="1.95"/><circle class="r" cx="488.1" cy="386.0" r="1.95"/><circle class="r" cx="488.9" cy="388.5" r="1.95"/><circle class="r" cx="486.2" cy="387.7" r="1.95"/><circle class="r" cx="485.8" cy="388.5" r="1.95"/><circle class="r" cx="487.6" cy="389.3" r="1.95"/><circle class="r" cx="489.4" cy="386.2" r="1.95"/><circle class="r" cx="486.6" cy="391.0" r="1.95"/><circle class="r" cx="486.5" cy="385.7" r="1.95"/><circle class="r" cx="487.9" cy="390.5" r="1.95"/></g><g font-family="Liberation Sans, Arial, sans-serif" font-weight="bold" font-size="16.4" fill="#000"><text x="72.15" y="401.40" text-anchor="end">0</text><text x="72.15" y="347.76" text-anchor="end">0.2</text><text x="72.15" y="294.11" text-anchor="end">0.4</text><text x="72.15" y="240.47" text-anchor="end">0.6</text><text x="72.15" y="186.83" text-anchor="end">0.8</text><text x="72.15" y="133.19" text-anchor="end"><tspan class="one">1</tspan></text><text x="72.15" y="79.54" text-anchor="end"><tspan class="one">1</tspan>.2</text><text x="72.15" y="25.90" text-anchor="end"><tspan class="one">1</tspan>.4</text><text x="128.36" y="411.2" text-anchor="middle">06:00</text><text x="231.07" y="411.2" text-anchor="middle">08:00</text><text x="333.79" y="411.2" text-anchor="middle"><tspan class="one">1</tspan>0:00</text><text x="436.50" y="411.2" text-anchor="middle"><tspan class="one">1</tspan>2:00</text><text x="539.21" y="411.2" text-anchor="middle"><tspan class="one">1</tspan>4:00</text><text x="641.93" y="411.2" text-anchor="middle"><tspan class="one">1</tspan>6:00</text><text x="744.64" y="411.2" text-anchor="middle"><tspan class="one">1</tspan>8:00</text><text x="481.5" y="428" text-anchor="end">Time (JST)</text><text x="796.5" y="428" text-anchor="end">20<tspan class="one">1</tspan>0-06-<tspan class="one">1</tspan>8</text></g><text font-family="Liberation Sans, Arial, sans-serif" font-weight="bold" font-size="16.7" transform="translate(15.0,18.2) rotate(-90)" text-anchor="end">Intensity (a.u.)</text><g font-family="Liberation Sans, Arial, sans-serif" font-weight="bold" font-size="16.4"><line x1="177.30" y1="11.6" x2="191.80" y2="11.6" stroke="#0000ff" stroke-width="1.8"/><text x="198.30" y="15.4" fill="#0000ff">368nm</text><line x1="321.20" y1="11.6" x2="335.70" y2="11.6" stroke="#00ff00" stroke-width="1.8"/><text x="342.20" y="15.4" fill="#00ff00">500nm</text><line x1="465.10" y1="11.6" x2="479.60" y2="11.6" stroke="#ff00ff" stroke-width="1.8"/><text x="486.10" y="15.4" fill="#ff00ff">675nm</text><line x1="609.00" y1="11.6" x2="623.50" y2="11.6" stroke="#ff0000" stroke-width="1.8"/><text x="630.00" y="15.4" fill="#ff0000">778nm</text></g>
</svg>
</body></html>
